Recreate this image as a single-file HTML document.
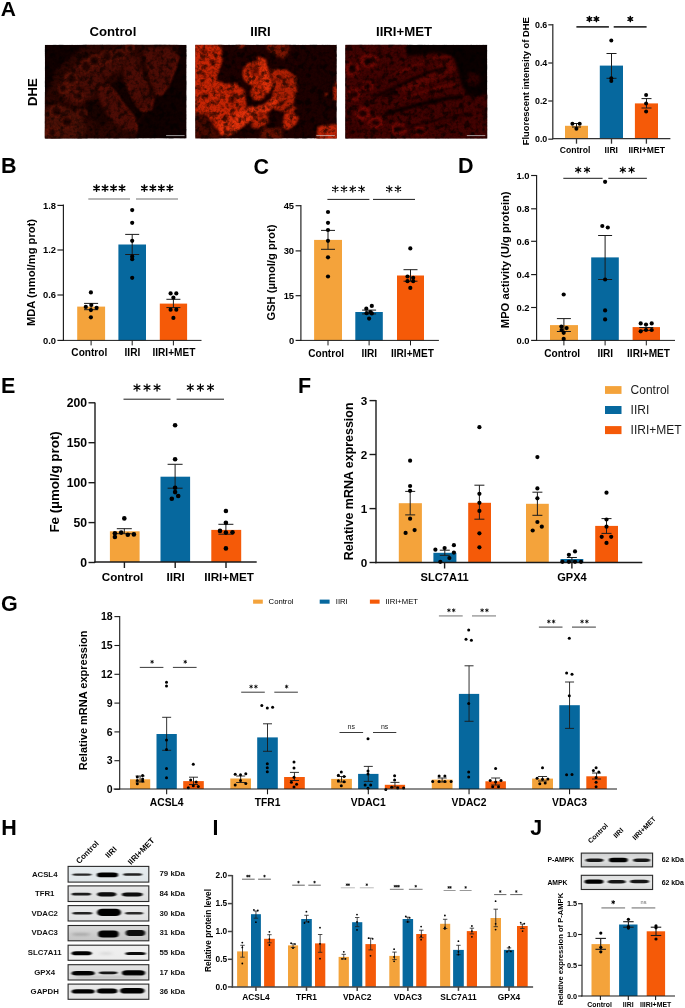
<!DOCTYPE html>
<html><head><meta charset="utf-8"><title>Figure</title>
<style>
html,body{margin:0;padding:0;background:#fff;}
body{width:685px;height:1008px;overflow:hidden;}
svg{will-change:transform;display:block;font-family:"Liberation Sans",sans-serif;}
</style></head><body>
<svg width="685" height="1008" viewBox="0 0 685 1008">
<defs>
<filter id="bl1" x="-10%" y="-10%" width="120%" height="120%" color-interpolation-filters="sRGB"><feGaussianBlur stdDeviation="1.1"/></filter>
<filter id="bl2" x="-10%" y="-10%" width="120%" height="120%" color-interpolation-filters="sRGB"><feGaussianBlur stdDeviation="1.8"/></filter>
<filter id="bl3" x="-10%" y="-10%" width="120%" height="120%" color-interpolation-filters="sRGB"><feGaussianBlur stdDeviation="3"/></filter>
<filter id="tex" x="0" y="0" width="100%" height="100%" color-interpolation-filters="sRGB"><feTurbulence type="fractalNoise" baseFrequency="0.42" numOctaves="2" seed="11" result="n"/><feColorMatrix in="n" type="matrix" values="0 0 0 0 0  0 0 0 0 0  0 0 0 0 0  -2.6 0 0 0 1.45"/><feGaussianBlur stdDeviation="0.4"/></filter>
<filter id="tex2" x="0" y="0" width="100%" height="100%" color-interpolation-filters="sRGB"><feTurbulence type="fractalNoise" baseFrequency="0.17" numOctaves="3" seed="4" result="n"/><feColorMatrix in="n" type="matrix" values="0 0 0 0 0  0 0 0 0 0  0 0 0 0 0  -4.0 0 0 0 2.1"/><feGaussianBlur stdDeviation="0.6"/></filter>
<clipPath id="cp0"><rect x="44.8" y="44.8" width="141.8" height="93.8"/></clipPath>
<clipPath id="cp1"><rect x="195.3" y="44.8" width="141.5" height="93.8"/></clipPath>
<clipPath id="cp2"><rect x="345.3" y="44.8" width="142" height="93.8"/></clipPath>
<filter id="bb" x="-30%" y="-150%" width="160%" height="400%"><feGaussianBlur stdDeviation="0.8 0.55"/></filter>
<filter id="bs" x="-30%" y="-150%" width="160%" height="400%"><feGaussianBlur stdDeviation="2 1.2"/></filter>
<linearGradient id="hg0" x1="0" y1="0" x2="0" y2="1"><stop offset="0" stop-color="#e6ecef"/><stop offset="1" stop-color="#dfe5e8"/></linearGradient>
<clipPath id="hc0"><rect x="68.1" y="866.4" width="80.7" height="15.7"/></clipPath>
<linearGradient id="hg1" x1="0" y1="0" x2="0" y2="1"><stop offset="0" stop-color="#e8e9ea"/><stop offset="1" stop-color="#dcdddd"/></linearGradient>
<clipPath id="hc1"><rect x="68.1" y="885.9" width="80.7" height="15.6"/></clipPath>
<linearGradient id="hg2" x1="0" y1="0" x2="0" y2="1"><stop offset="0" stop-color="#e9eaeb"/><stop offset="1" stop-color="#dfe0e1"/></linearGradient>
<clipPath id="hc2"><rect x="68.1" y="905.6" width="80.7" height="15.4"/></clipPath>
<linearGradient id="hg3" x1="0" y1="0" x2="0" y2="1"><stop offset="0" stop-color="#dadada"/><stop offset="1" stop-color="#c4c4c4"/></linearGradient>
<clipPath id="hc3"><rect x="68.1" y="925.5" width="80.7" height="15.3"/></clipPath>
<linearGradient id="hg4" x1="0" y1="0" x2="0" y2="1"><stop offset="0" stop-color="#f0f0f0"/><stop offset="1" stop-color="#ececec"/></linearGradient>
<clipPath id="hc4"><rect x="68.1" y="945.2" width="80.7" height="15.1"/></clipPath>
<linearGradient id="hg5" x1="0" y1="0" x2="0" y2="1"><stop offset="0" stop-color="#e4e4e4"/><stop offset="1" stop-color="#d8d8d8"/></linearGradient>
<clipPath id="hc5"><rect x="68.1" y="964.7" width="80.7" height="15.3"/></clipPath>
<linearGradient id="hg6" x1="0" y1="0" x2="0" y2="1"><stop offset="0" stop-color="#ebebeb"/><stop offset="1" stop-color="#e2e2e2"/></linearGradient>
<clipPath id="hc6"><rect x="68.1" y="984.1" width="80.7" height="15.2"/></clipPath>
<linearGradient id="jg0" x1="0" y1="0" x2="0" y2="1"><stop offset="0" stop-color="#cfd0d1"/><stop offset="0.5" stop-color="#e2e3e3"/><stop offset="1" stop-color="#c9caca"/></linearGradient>
<clipPath id="jc0"><rect x="581.3" y="853.1" width="71.3" height="13.8"/></clipPath>
<linearGradient id="jg1" x1="0" y1="0" x2="0" y2="1"><stop offset="0" stop-color="#dcdddd"/><stop offset="0.5" stop-color="#e8e9e9"/><stop offset="1" stop-color="#d6d7d7"/></linearGradient>
<clipPath id="jc1"><rect x="581.3" y="875.3" width="71.3" height="14.2"/></clipPath>
</defs>
<rect x="0" y="0" width="685" height="1008" fill="#fff"/>
<text x="0.78" y="16.03" font-size="21" font-weight="bold">A</text>
<text x="112.9" y="35.94" font-size="13.2" font-weight="bold" text-anchor="middle" fill="#000">Control</text>
<text x="260.5" y="35.94" font-size="13.2" font-weight="bold" text-anchor="middle" fill="#000">IIRI</text>
<text x="404" y="35.94" font-size="13.2" font-weight="bold" text-anchor="middle" fill="#000">IIRI+MET</text>
<text transform="translate(36.81 92.1) rotate(-90)" font-size="13.1" font-weight="bold" text-anchor="middle" fill="#000">DHE</text>
<g clip-path="url(#cp0)">
<rect x="44.8" y="44.8" width="141.8" height="93.8" fill="#110100"/>
<path d="M86,44 L178.5,44 L179,56.6 L174.3,71.3 L168,86 L161.7,94.5 L153.3,98.7 L151.2,109.2 L145,113 L140,120 L137.5,128 L135.4,138.6 L44,138.6 L44,98.7 L56.6,69.2 Z" fill="#2c0602" filter="url(#bl2)"/>
<path d="M60,80 L70,70 L80,62 L92,56 L104,52 L118,50 L132,52 L140,58 L138,66 L124,67 L112,74 L104,82 L97,90 L90,98 L80,104 L70,106 L62,100 Z" fill="#480c05" filter="url(#bl2)"/>
<path d="M65.5,79 a6,6 0 1 0 12,0 a6,6 0 1 0 -12,0 Z" fill="#5e1608" filter="url(#bl1)"/>
<path d="M68.5,79 a3,3 0 1 0 6,0 a3,3 0 1 0 -6,0 Z" fill="#2a0703" filter="url(#bl1)"/>
<path d="M61,90 a5,4.5 0 1 0 10,0 a5,4.5 0 1 0 -10,0 Z" fill="#561307" filter="url(#bl1)"/>
<path d="M85,62 a7,5 0 1 0 14,0 a7,5 0 1 0 -14,0 Z" fill="#4f1106" filter="url(#bl2)"/>
<path d="M97.6,89.2 L107.1,85 L115.5,92.3 L123.9,105 L132.3,115.5 L137.5,126 L135.4,133.3 L128.1,132.3 L117.6,126 L107.1,115.5 L99.7,102.9 Z" fill="#4c0c05" filter="url(#bl1)"/>
<path d="M123.9,67.1 L134.4,65 L142.8,71.3 L149.1,86 L153.3,98.7 L151.2,109.2 L142.8,111.3 L136.5,105 L130.2,92.3 L124.9,79.7 Z" fill="#4c0c05" filter="url(#bl1)"/>
<path d="M142.8,48.2 L170.1,47.2 L178.5,56.6 L174.3,71.3 L168,86 L161.7,94.5 L153.3,92.3 L149.1,77.6 L144.9,62.9 Z" fill="#4c0c05" filter="url(#bl1)"/>
<path d="M0,0" fill="#000" filter="url(#bl1)"/>
<path d="M44.8,110 L56,104 L68,108 L80,116 L86,128 L84,138.6 L44.8,138.6 Z" fill="#4a1006" filter="url(#bl2)"/>
<path d="M43,133 a9,6 0 1 0 18,0 a9,6 0 1 0 -18,0 Z" fill="#5c1508" filter="url(#bl2)"/>
<path d="M110,84 L118,80 L124,82 L128,90 L134,101 L141,110 L144,116 L139,121 L131,112 L123,103 L116,94 Z" fill="#140200" filter="url(#bl1)"/>
<path d="M97.6,89.2 L107.1,85 L115.5,92.3 L123.9,105 L132.3,115.5 L137.5,126 L135.4,133.3" fill="none" stroke="#741408" stroke-width="1.6" stroke-linecap="round" stroke-linejoin="round" filter="url(#bl1)"/>
<path d="M124.9,79.7 L130.2,92.3 L136.5,105 L142.8,111.3 L151.2,109.2 L153.3,98.7" fill="none" stroke="#741408" stroke-width="1.6" stroke-linecap="round" stroke-linejoin="round" filter="url(#bl1)"/>
<path d="M144.9,62.9 L149.1,77.6 L153.3,92.3 L161.7,94.5 L168,86 L174.3,71.3 L178.5,56.6" fill="none" stroke="#741408" stroke-width="1.6" stroke-linecap="round" stroke-linejoin="round" filter="url(#bl1)"/>
<path d="M86,104 L97,100 L104,110 L108,118 L106,126 L98,124 L90,118 L85,112 Z" fill="#1a0300" filter="url(#bl2)"/>
<path d="M143.5,58 L147,74 L150.5,86 L154,95" fill="none" stroke="#180300" stroke-width="2.4" stroke-linecap="round" stroke-linejoin="round" filter="url(#bl1)"/>
<path d="M124,66 L128,58 L136,54 L142,52" fill="none" stroke="#240502" stroke-width="1.2" stroke-linecap="round" stroke-linejoin="round" filter="url(#bl1)"/>
<circle cx="86" cy="67" r="5.5" fill="#260502" stroke="#6a1608" stroke-width="1.8" filter="url(#bl1)"/>
<circle cx="94.5" cy="60.8" r="5.5" fill="#260502" stroke="#6a1608" stroke-width="1.8" filter="url(#bl1)"/>
<circle cx="107" cy="56.6" r="5.5" fill="#260502" stroke="#6a1608" stroke-width="1.8" filter="url(#bl1)"/>
<circle cx="119.7" cy="54.5" r="4.5" fill="#260502" stroke="#6a1608" stroke-width="1.8" filter="url(#bl1)"/>
<circle cx="62.9" cy="88.1" r="4.5" fill="#260502" stroke="#6a1608" stroke-width="1.8" filter="url(#bl1)"/>
<circle cx="56.6" cy="111.3" r="5.5" fill="#260502" stroke="#6a1608" stroke-width="1.8" filter="url(#bl1)"/>
<circle cx="67.1" cy="121.8" r="5.5" fill="#260502" stroke="#6a1608" stroke-width="1.8" filter="url(#bl1)"/>
<circle cx="81.8" cy="113.4" r="4.5" fill="#260502" stroke="#6a1608" stroke-width="1.8" filter="url(#bl1)"/>
<circle cx="52.4" cy="132.3" r="4.5" fill="#260502" stroke="#6a1608" stroke-width="1.8" filter="url(#bl1)"/>
<circle cx="71.5" cy="79" r="5.5" fill="#260502" stroke="#6a1608" stroke-width="1.8" filter="url(#bl1)"/>
<circle cx="78" cy="96" r="4.5" fill="#260502" stroke="#6a1608" stroke-width="1.8" filter="url(#bl1)"/>
<circle cx="130" cy="48" r="4" fill="#260502" stroke="#6a1608" stroke-width="1.8" filter="url(#bl1)"/>
<g filter="url(#bl1)" opacity="0.85">
<circle cx="75.14" cy="53.1" r="1.27" fill="#1a0300"/>
<circle cx="99.44" cy="103.23" r="1.39" fill="#1a0300"/>
<circle cx="80.92" cy="128.58" r="0.8" fill="#1a0300"/>
<circle cx="102.7" cy="74.23" r="1.21" fill="#1a0300"/>
<circle cx="64.96" cy="122.33" r="1.17" fill="#1a0300"/>
<circle cx="54.69" cy="103.38" r="0.89" fill="#1a0300"/>
<circle cx="120.88" cy="79.53" r="1.38" fill="#1a0300"/>
<circle cx="174.58" cy="121.21" r="1.22" fill="#1a0300"/>
<circle cx="155.69" cy="105.88" r="1.17" fill="#1a0300"/>
<circle cx="68.47" cy="101.85" r="1.36" fill="#1a0300"/>
<circle cx="174.44" cy="134.22" r="1.41" fill="#1a0300"/>
<circle cx="95.65" cy="127.73" r="0.8" fill="#1a0300"/>
<circle cx="64.03" cy="99.23" r="1.42" fill="#1a0300"/>
<circle cx="68.29" cy="104.76" r="1.69" fill="#1a0300"/>
<circle cx="98.86" cy="87.56" r="1.03" fill="#1a0300"/>
<circle cx="87.89" cy="134.6" r="1.18" fill="#1a0300"/>
<circle cx="174.95" cy="129.5" r="1.4" fill="#1a0300"/>
<circle cx="83.78" cy="135.35" r="1.3" fill="#1a0300"/>
<circle cx="104.01" cy="77.77" r="1.78" fill="#1a0300"/>
<circle cx="113.93" cy="74.92" r="1.28" fill="#1a0300"/>
<circle cx="65.85" cy="104.09" r="1.24" fill="#1a0300"/>
<circle cx="88.1" cy="118.01" r="1.63" fill="#1a0300"/>
<circle cx="51.72" cy="96.33" r="1.07" fill="#1a0300"/>
<circle cx="171.58" cy="118.03" r="1.05" fill="#1a0300"/>
<circle cx="84.8" cy="63.46" r="1.79" fill="#1a0300"/>
<circle cx="88.11" cy="102.9" r="1.27" fill="#1a0300"/>
<circle cx="133.83" cy="102.54" r="1.54" fill="#1a0300"/>
<circle cx="65.36" cy="116.15" r="1.1" fill="#1a0300"/>
<circle cx="119.35" cy="79.24" r="1.1" fill="#1a0300"/>
<circle cx="118.88" cy="90.4" r="1.16" fill="#1a0300"/>
<circle cx="146.85" cy="101.4" r="0.84" fill="#1a0300"/>
<circle cx="82.81" cy="89.64" r="1.72" fill="#1a0300"/>
<circle cx="165.43" cy="97.47" r="0.81" fill="#1a0300"/>
<circle cx="151.19" cy="87.21" r="1.38" fill="#1a0300"/>
<circle cx="142.06" cy="105" r="1.28" fill="#1a0300"/>
<circle cx="168.52" cy="83.54" r="1.19" fill="#1a0300"/>
<circle cx="160.75" cy="67.09" r="1.1" fill="#1a0300"/>
<circle cx="157.9" cy="55.75" r="1.64" fill="#1a0300"/>
<circle cx="140.3" cy="87.66" r="1.09" fill="#1a0300"/>
<circle cx="151.49" cy="129.23" r="0.94" fill="#1a0300"/>
</g>
<rect x="44.8" y="44.8" width="141.8" height="93.8" filter="url(#tex)" opacity="0.3"/>
<rect x="44.8" y="44.8" width="141.8" height="93.8" filter="url(#tex2)" opacity="0.55"/>
<line x1="166.1" y1="135.6" x2="184.6" y2="135.6" stroke="#d8d8d8" stroke-width="0.7"/>
</g>
<g clip-path="url(#cp1)">
<rect x="195.3" y="44.8" width="141.5" height="93.8" fill="#1e0100"/>
<path d="M194,44 L221.3,44 L222.4,60.8 L216.1,79.7 L225.5,84 L236,82.9 L244.5,90.2 L246.6,107.1 L242.3,119.7 L236,128.1 L223.4,134.4 L215,128.1 L206.6,115.5 L194,113.4 Z" fill="#c62404" filter="url(#bl1)"/>
<path d="M194,113 L206,116 L214,128 L222,138.6 L194,138.6 Z" fill="#4a0a01" filter="url(#bl2)"/>
<path d="M265.5,44 L288.6,44 L289,52 L284,58.7 L276,56 L268,50 Z" fill="#7a1503" filter="url(#bl2)"/>
<path d="M236,44 L246,44 L244,48 L238,48 Z" fill="#801603" filter="url(#bl1)"/>
<path d="M269.7,69.2 L286.5,69.2 L297,77.6 L297,92.3 L292.8,105 L297,109.2 L290.7,113.4 L282.3,111.3 L273.9,109.2 L271.8,98.7 L273.9,86 Z" fill="#b02004" filter="url(#bl1)"/>
<path d="M242.4,73.4 a12.6,12 0 1 0 25.2,0 a12.6,12 0 1 0 -25.2,0 Z" fill="#d42a06" filter="url(#bl1)"/>
<path d="M250.5,71.3 a5,4.5 0 1 0 10,0 a5,4.5 0 1 0 -10,0 Z" fill="#8a1603" filter="url(#bl1)"/>
<path d="M247,73 a8.5,8 0 1 1 10,7.6" fill="none" stroke="#5a0c01" stroke-width="1.6" stroke-linecap="round" stroke-linejoin="round" filter="url(#bl1)"/>
<path d="M254.2,71 a1.8,1.6 0 1 0 3.6,0 a1.8,1.6 0 1 0 -3.6,0 Z" fill="#4a0800" filter="url(#bl1)"/>
<path d="M250.5,92.4 a7.5,8.5 0 1 0 15,0 a7.5,8.5 0 1 0 -15,0 Z" fill="#c22404" filter="url(#bl1)"/>
<path d="M257.1,56.6 L265.5,58.7 L269.7,75.5 L273.9,86 L267.6,94.5 L261.3,86 L259.2,71.3 Z" fill="#dc2e08" filter="url(#bl1)"/>
<path d="M219.2,123.9 L236,113.4 L248.7,107.1 L263.4,105 L273.9,96.6 L278.1,100.8 L269.7,111.3 L257.1,117.6 L246.6,123.9 L236,132.3 L227.6,136.5 L219.2,134.4 Z" fill="#e0300a" filter="url(#bl1)"/>
<path d="M250.8,113.4 L267.6,113.4 L268,122 L262,128.1 L252,128.1 Z" fill="#b82204" filter="url(#bl2)"/>
<path d="M262,128 L282,128 L282,138.6 L260,138.6 Z" fill="#6a1202" filter="url(#bl2)"/>
<path d="M284.4,113.4 L292.8,111.3 L299.1,117.6 L294.9,126 L286.5,130.2 L282.3,126 Z" fill="#c42406" filter="url(#bl1)"/>
<path d="M333.5,84 L336.8,82 L336.8,101 L333,100 Z" fill="#c42406" filter="url(#bl1)"/>
<path d="M324.4,94.5 a2,1.5 0 1 0 4,0 a2,1.5 0 1 0 -4,0 Z" fill="#901a03" filter="url(#bl1)"/>
<path d="M318,126 L338,123.9 L338,140 L316,140 Z" fill="#c02406" filter="url(#bl1)"/>
<path d="M209.5,62 a2.5,2 0 1 0 5,0 a2.5,2 0 1 0 -5,0 Z" fill="#3a0500" filter="url(#bl1)"/>
<path d="M201,52 a3,3 0 1 0 6,0 a3,3 0 1 0 -6,0 Z" fill="#701201" filter="url(#bl1)"/>
<path d="M229,100 a3,2.5 0 1 0 6,0 a3,2.5 0 1 0 -6,0 Z" fill="#5a0c01" filter="url(#bl1)"/>
<path d="M203,96 a3,3 0 1 0 6,0 a3,3 0 1 0 -6,0 Z" fill="#801502" filter="url(#bl1)"/>
<g filter="url(#bl1)" opacity="0.85">
<circle cx="260.78" cy="113.5" r="1.4" fill="#3a0500"/>
<circle cx="294.01" cy="113.33" r="1.52" fill="#3a0500"/>
<circle cx="199.02" cy="88.37" r="1.54" fill="#3a0500"/>
<circle cx="263.49" cy="127.98" r="0.71" fill="#3a0500"/>
<circle cx="244.78" cy="68.44" r="1.14" fill="#3a0500"/>
<circle cx="255.69" cy="47.19" r="0.82" fill="#3a0500"/>
<circle cx="225.07" cy="129.39" r="1.37" fill="#3a0500"/>
<circle cx="212.6" cy="118.54" r="0.74" fill="#3a0500"/>
<circle cx="260.22" cy="57.53" r="0.6" fill="#3a0500"/>
<circle cx="286.63" cy="65.06" r="0.82" fill="#3a0500"/>
<circle cx="298.17" cy="125.39" r="0.89" fill="#3a0500"/>
<circle cx="295.99" cy="95.07" r="1.28" fill="#3a0500"/>
<circle cx="217.3" cy="131.63" r="1.29" fill="#3a0500"/>
<circle cx="296.52" cy="127.33" r="0.9" fill="#3a0500"/>
<circle cx="233.56" cy="61.1" r="0.75" fill="#3a0500"/>
<circle cx="202.77" cy="73.42" r="1.2" fill="#3a0500"/>
<circle cx="196.35" cy="107.69" r="0.94" fill="#3a0500"/>
<circle cx="228.24" cy="120.49" r="1.08" fill="#3a0500"/>
<circle cx="228.84" cy="89.79" r="1.3" fill="#3a0500"/>
<circle cx="201.93" cy="134.73" r="0.62" fill="#3a0500"/>
<circle cx="273.98" cy="122.88" r="0.62" fill="#3a0500"/>
<circle cx="277.92" cy="79.32" r="1.18" fill="#3a0500"/>
<circle cx="196.94" cy="50.25" r="0.78" fill="#3a0500"/>
<circle cx="295.34" cy="63.88" r="1.36" fill="#3a0500"/>
<circle cx="292.68" cy="131.73" r="0.94" fill="#3a0500"/>
<circle cx="232.9" cy="93.75" r="1.38" fill="#3a0500"/>
<circle cx="207.24" cy="114.1" r="1.4" fill="#3a0500"/>
<circle cx="285.41" cy="49.33" r="1.55" fill="#3a0500"/>
<circle cx="205.48" cy="77.01" r="1.21" fill="#3a0500"/>
<circle cx="291.48" cy="76.94" r="1.52" fill="#3a0500"/>
<circle cx="252.69" cy="74.43" r="0.92" fill="#3a0500"/>
<circle cx="214.46" cy="53.12" r="0.75" fill="#3a0500"/>
<circle cx="267.67" cy="136.7" r="0.76" fill="#3a0500"/>
<circle cx="201.05" cy="135.79" r="1.13" fill="#3a0500"/>
<circle cx="238.21" cy="67.6" r="1.19" fill="#3a0500"/>
<circle cx="281.93" cy="87.47" r="1.02" fill="#3a0500"/>
<circle cx="201.79" cy="129.36" r="0.63" fill="#3a0500"/>
<circle cx="247.33" cy="122.3" r="0.73" fill="#3a0500"/>
<circle cx="272.09" cy="132.43" r="1.23" fill="#3a0500"/>
<circle cx="277.95" cy="55.7" r="1.03" fill="#3a0500"/>
<circle cx="211.52" cy="122.87" r="0.89" fill="#3a0500"/>
<circle cx="243.13" cy="136.94" r="1.45" fill="#3a0500"/>
<circle cx="297.5" cy="87.27" r="1.09" fill="#3a0500"/>
<circle cx="271.87" cy="89.59" r="0.89" fill="#3a0500"/>
<circle cx="237.99" cy="59.33" r="0.98" fill="#3a0500"/>
<circle cx="298.79" cy="133.34" r="1.23" fill="#3a0500"/>
<circle cx="247.93" cy="76.8" r="0.69" fill="#3a0500"/>
<circle cx="224.32" cy="117.16" r="1.47" fill="#3a0500"/>
<circle cx="233.58" cy="117.53" r="1.37" fill="#3a0500"/>
<circle cx="268.24" cy="106.43" r="1.36" fill="#3a0500"/>
<circle cx="233.8" cy="110.11" r="0.88" fill="#3a0500"/>
<circle cx="246.51" cy="116.05" r="1.29" fill="#3a0500"/>
<circle cx="226.56" cy="132.04" r="1.25" fill="#3a0500"/>
<circle cx="256.39" cy="47.05" r="1.15" fill="#3a0500"/>
<circle cx="222.07" cy="107.12" r="1.06" fill="#3a0500"/>
<circle cx="280.93" cy="104.92" r="1.4" fill="#3a0500"/>
<circle cx="232.18" cy="104.61" r="1.34" fill="#3a0500"/>
<circle cx="282.13" cy="77.85" r="1.44" fill="#3a0500"/>
<circle cx="286.47" cy="108.64" r="1.58" fill="#3a0500"/>
<circle cx="295.48" cy="93.15" r="1.13" fill="#3a0500"/>
<circle cx="213.28" cy="122.13" r="1.54" fill="#3a0500"/>
<circle cx="245.63" cy="108.92" r="1.32" fill="#3a0500"/>
<circle cx="271.96" cy="61.64" r="1.38" fill="#3a0500"/>
<circle cx="256.41" cy="106.57" r="1.02" fill="#3a0500"/>
<circle cx="260.87" cy="116.5" r="1.24" fill="#3a0500"/>
<circle cx="270.92" cy="48.51" r="0.76" fill="#3a0500"/>
<circle cx="241.87" cy="105.16" r="0.82" fill="#3a0500"/>
<circle cx="267.34" cy="103.41" r="0.64" fill="#3a0500"/>
<circle cx="245.04" cy="66.59" r="0.65" fill="#3a0500"/>
<circle cx="209.89" cy="74.88" r="0.78" fill="#3a0500"/>
</g>
<rect x="195.3" y="44.8" width="141.5" height="93.8" filter="url(#tex)" opacity="0.3"/>
<rect x="195.3" y="44.8" width="141.5" height="93.8" filter="url(#tex2)" opacity="0.6"/>
<line x1="316.3" y1="135.6" x2="334.8" y2="135.6" stroke="#d8d8d8" stroke-width="0.7"/>
</g>
<g clip-path="url(#cp2)">
<rect x="345.3" y="44.8" width="142" height="93.8" fill="#0b0000"/>
<path d="M344,44 L407.1,44 L407.1,56.6 L421.8,54.5 L436.5,52.4 L453.3,56.6 L457.5,69.2 L461.7,86 L470.1,96.6 L488,94.5 L488,140 L344,140 Z" fill="#420302" filter="url(#bl2)"/>
<path d="M345,69.2 a7.4,7.4 0 1 0 14.8,0 a7.4,7.4 0 1 0 -14.8,0 Z" fill="#740804" filter="url(#bl1)"/>
<path d="M348.9,69.2 a3.5,3.5 0 1 0 7,0 a3.5,3.5 0 1 0 -7,0 Z" fill="#1e0000" filter="url(#bl1)"/>
<path d="M347.1,94.5 a7.4,6.5 0 1 0 14.8,0 a7.4,6.5 0 1 0 -14.8,0 Z" fill="#740804" filter="url(#bl1)"/>
<path d="M351,94.5 a3.5,3 0 1 0 7,0 a3.5,3 0 1 0 -7,0 Z" fill="#1e0000" filter="url(#bl1)"/>
<path d="M359.7,60.8 a9.5,7 0 1 0 19,0 a9.5,7 0 1 0 -19,0 Z" fill="#700804" filter="url(#bl1)"/>
<path d="M364.7,60.8 a4.5,3 0 1 0 9,0 a4.5,3 0 1 0 -9,0 Z" fill="#1e0000" filter="url(#bl1)"/>
<path d="M354.9,113.4 a8,7 0 1 0 16,0 a8,7 0 1 0 -16,0 Z" fill="#760804" filter="url(#bl1)"/>
<path d="M358.9,113.4 a4,3 0 1 0 8,0 a4,3 0 1 0 -8,0 Z" fill="#1e0000" filter="url(#bl1)"/>
<path d="M367.5,122.7 a8,6.5 0 1 0 16,0 a8,6.5 0 1 0 -16,0 Z" fill="#720804" filter="url(#bl1)"/>
<path d="M371.5,122.7 a4,2.5 0 1 0 8,0 a4,2.5 0 1 0 -8,0 Z" fill="#1e0000" filter="url(#bl1)"/>
<path d="M346.4,128.1 a6,6 0 1 0 12,0 a6,6 0 1 0 -12,0 Z" fill="#3a0201" filter="url(#bl1)"/>
<path d="M390,129 a8.5,6.5 0 1 0 17,0 a8.5,6.5 0 1 0 -17,0 Z" fill="#700804" filter="url(#bl1)"/>
<path d="M394,129 a4.5,2.8 0 1 0 9,0 a4.5,2.8 0 1 0 -9,0 Z" fill="#1e0000" filter="url(#bl1)"/>
<path d="M413,131 a7,5 0 1 0 14,0 a7,5 0 1 0 -14,0 Z" fill="#6a0703" filter="url(#bl1)"/>
<path d="M416.5,131 a3.5,2.2 0 1 0 7,0 a3.5,2.2 0 1 0 -7,0 Z" fill="#220000" filter="url(#bl1)"/>
<path d="M362,86 a6,5 0 1 0 12,0 a6,5 0 1 0 -12,0 Z" fill="#6c0703" filter="url(#bl1)"/>
<path d="M365,86 a3,2.2 0 1 0 6,0 a3,2.2 0 1 0 -6,0 Z" fill="#220000" filter="url(#bl1)"/>
<path d="M395,74 L415,66 L435,58 L450,56" fill="none" stroke="#6e0804" stroke-width="2.2" stroke-linecap="round" stroke-linejoin="round" filter="url(#bl1)"/>
<path d="M405,98 L425,92 L445,86 L458,84" fill="none" stroke="#6e0804" stroke-width="2.2" stroke-linecap="round" stroke-linejoin="round" filter="url(#bl1)"/>
<path d="M400,86 L420,76 L440,64 L452,60 L456,70 L440,78 L420,88 L404,94 Z" fill="#5c0603" filter="url(#bl2)"/>
<path d="M466,79 a7,7 0 1 0 14,0 a7,7 0 1 0 -14,0 Z" fill="#2c0100" filter="url(#bl2)"/>
<path d="M376,96 L407.1,81.7 L432.3,71.2 L446,68" fill="none" stroke="#140000" stroke-width="3" stroke-linecap="round" stroke-linejoin="round" filter="url(#bl1)"/>
<path d="M386,113.4 L417.6,105 L444.9,98.7 L461.7,96.6" fill="none" stroke="#100000" stroke-width="4" stroke-linecap="round" stroke-linejoin="round" filter="url(#bl1)"/>
<path d="M402.9,128.1 L438.6,119.7 L470.1,113.4" fill="none" stroke="#1a0000" stroke-width="1.8" stroke-linecap="round" stroke-linejoin="round" filter="url(#bl1)"/>
<path d="M384,96 L396,92" fill="none" stroke="#140000" stroke-width="4" stroke-linecap="round" stroke-linejoin="round" filter="url(#bl2)"/>
<g filter="url(#bl1)" opacity="0.85">
<circle cx="412.98" cy="97.77" r="1.3" fill="#140000"/>
<circle cx="392.3" cy="63.36" r="1.39" fill="#140000"/>
<circle cx="459.66" cy="55.95" r="1.03" fill="#140000"/>
<circle cx="460.74" cy="118.88" r="1.46" fill="#140000"/>
<circle cx="349.58" cy="112.87" r="1.78" fill="#140000"/>
<circle cx="485.77" cy="111.01" r="0.85" fill="#140000"/>
<circle cx="463.89" cy="69.07" r="1.45" fill="#140000"/>
<circle cx="479.31" cy="111.98" r="0.93" fill="#140000"/>
<circle cx="386.95" cy="129.87" r="0.95" fill="#140000"/>
<circle cx="431.49" cy="86.01" r="0.96" fill="#140000"/>
<circle cx="433.14" cy="53.79" r="0.91" fill="#140000"/>
<circle cx="399.09" cy="56.26" r="0.86" fill="#140000"/>
<circle cx="426.54" cy="114.58" r="1.68" fill="#140000"/>
<circle cx="364.81" cy="87.56" r="1.11" fill="#140000"/>
<circle cx="430.03" cy="92.59" r="1.74" fill="#140000"/>
<circle cx="398.39" cy="54.85" r="1.5" fill="#140000"/>
<circle cx="367.16" cy="104.93" r="1.31" fill="#140000"/>
<circle cx="473.46" cy="98.28" r="1.42" fill="#140000"/>
<circle cx="382.85" cy="98" r="1.05" fill="#140000"/>
<circle cx="451.08" cy="94.98" r="0.93" fill="#140000"/>
<circle cx="378.82" cy="82.3" r="1.54" fill="#140000"/>
<circle cx="371.1" cy="112.06" r="1.46" fill="#140000"/>
<circle cx="357.93" cy="108.11" r="0.89" fill="#140000"/>
<circle cx="363.47" cy="101.68" r="1.04" fill="#140000"/>
<circle cx="468.77" cy="91.8" r="1.12" fill="#140000"/>
<circle cx="457.5" cy="52.56" r="1.53" fill="#140000"/>
<circle cx="353.51" cy="63.12" r="1.75" fill="#140000"/>
<circle cx="441.36" cy="69.41" r="0.92" fill="#140000"/>
<circle cx="482.18" cy="107.86" r="1.62" fill="#140000"/>
<circle cx="365.57" cy="104.36" r="1.15" fill="#140000"/>
<circle cx="378.9" cy="78.99" r="1.41" fill="#140000"/>
<circle cx="394.81" cy="83.56" r="0.94" fill="#140000"/>
<circle cx="462.35" cy="106.37" r="1.6" fill="#140000"/>
<circle cx="406.68" cy="124.09" r="1.32" fill="#140000"/>
<circle cx="428.97" cy="99.87" r="1.54" fill="#140000"/>
<circle cx="401.37" cy="58.44" r="0.83" fill="#140000"/>
<circle cx="374.34" cy="53.43" r="1.69" fill="#140000"/>
<circle cx="413.34" cy="116.15" r="0.8" fill="#140000"/>
<circle cx="411.83" cy="127.41" r="1.42" fill="#140000"/>
<circle cx="406.01" cy="90.5" r="0.9" fill="#140000"/>
</g>
<rect x="345.3" y="44.8" width="142" height="93.8" filter="url(#tex)" opacity="0.3"/>
<rect x="345.3" y="44.8" width="142" height="93.8" filter="url(#tex2)" opacity="0.6"/>
<line x1="466.8" y1="135.6" x2="485.3" y2="135.6" stroke="#d8d8d8" stroke-width="0.7"/>
</g>
<line x1="552.8" y1="23.9" x2="552.8" y2="139.35" stroke="#333" stroke-width="1.3"/>
<line x1="548.3" y1="24.8" x2="552.8" y2="24.8" stroke="#333" stroke-width="1.3"/>
<text x="547.3" y="27.86" font-size="8.9" font-weight="bold" text-anchor="end" fill="#000">0.6</text>
<line x1="548.3" y1="63" x2="552.8" y2="63" stroke="#333" stroke-width="1.3"/>
<text x="547.3" y="66.06" font-size="8.9" font-weight="bold" text-anchor="end" fill="#000">0.4</text>
<line x1="548.3" y1="101" x2="552.8" y2="101" stroke="#333" stroke-width="1.3"/>
<text x="547.3" y="104.06" font-size="8.9" font-weight="bold" text-anchor="end" fill="#000">0.2</text>
<line x1="548.3" y1="139.2" x2="552.8" y2="139.2" stroke="#333" stroke-width="1.3"/>
<text x="547.3" y="142.26" font-size="8.9" font-weight="bold" text-anchor="end" fill="#000">0.0</text>
<rect x="565" y="125.8" width="23" height="12.9" fill="#F4A33B"/>
<rect x="599.8" y="65.6" width="23.2" height="73.1" fill="#06689E"/>
<rect x="634.9" y="103.4" width="23.1" height="35.3" fill="#F55A08"/>
<line x1="552.15" y1="138.7" x2="670.4" y2="138.7" stroke="#333" stroke-width="1.3"/>
<line x1="576.5" y1="138.7" x2="576.5" y2="143.7" stroke="#333" stroke-width="1.3"/>
<line x1="611.5" y1="138.7" x2="611.5" y2="143.7" stroke="#333" stroke-width="1.3"/>
<line x1="646.4" y1="138.7" x2="646.4" y2="143.7" stroke="#333" stroke-width="1.3"/>
<line x1="576.5" y1="123.5" x2="576.5" y2="127" stroke="#1b1b1b" stroke-width="1"/>
<line x1="572" y1="123.5" x2="581" y2="123.5" stroke="#1b1b1b" stroke-width="1"/>
<line x1="572" y1="127" x2="581" y2="127" stroke="#1b1b1b" stroke-width="1"/>
<line x1="611.5" y1="53.5" x2="611.5" y2="78.3" stroke="#1b1b1b" stroke-width="1"/>
<line x1="606.5" y1="53.5" x2="616.5" y2="53.5" stroke="#1b1b1b" stroke-width="1"/>
<line x1="606.5" y1="78.3" x2="616.5" y2="78.3" stroke="#1b1b1b" stroke-width="1"/>
<line x1="646.5" y1="98.6" x2="646.5" y2="108" stroke="#1b1b1b" stroke-width="1"/>
<line x1="641.5" y1="98.6" x2="651.5" y2="98.6" stroke="#1b1b1b" stroke-width="1"/>
<line x1="641.5" y1="108" x2="651.5" y2="108" stroke="#1b1b1b" stroke-width="1"/>
<circle cx="572.4" cy="123.7" r="2" fill="#000"/>
<circle cx="579.7" cy="123.7" r="2" fill="#000"/>
<circle cx="576.4" cy="128.8" r="2" fill="#000"/>
<circle cx="611.3" cy="40.5" r="2" fill="#000"/>
<circle cx="611.3" cy="78.3" r="2" fill="#000"/>
<circle cx="611.3" cy="81" r="2" fill="#000"/>
<circle cx="646.1" cy="95" r="2" fill="#000"/>
<circle cx="646.1" cy="103.4" r="2" fill="#000"/>
<circle cx="646.1" cy="111.5" r="2" fill="#000"/>
<line x1="576.4" y1="26.9" x2="608.9" y2="26.9" stroke="#333" stroke-width="1.6"/>
<line x1="613.7" y1="26.9" x2="646.6" y2="26.9" stroke="#333" stroke-width="1.6"/>
<path d="M589.4 16.4L589.4 21.6M587.15 17.7L591.65 20.3M591.65 17.7L587.15 20.3" stroke="#000" stroke-width="1.55" stroke-linecap="round"/>
<path d="M596.4 16.4L596.4 21.6M594.15 17.7L598.65 20.3M598.65 17.7L594.15 20.3" stroke="#000" stroke-width="1.55" stroke-linecap="round"/>
<path d="M630.3 16.4L630.3 21.6M628.05 17.7L632.55 20.3M632.55 17.7L628.05 20.3" stroke="#000" stroke-width="1.55" stroke-linecap="round"/>
<text x="575" y="152.96" font-size="8.6" font-weight="bold" text-anchor="middle" fill="#000">Control</text>
<text x="611.3" y="152.96" font-size="8.6" font-weight="bold" text-anchor="middle" fill="#000">IIRI</text>
<text x="646.7" y="152.96" font-size="8.6" font-weight="bold" text-anchor="middle" fill="#000">IIRI+MET</text>
<text transform="translate(529.23 81.2) rotate(-90)" font-size="9.4" font-weight="bold" text-anchor="middle" fill="#000">Fluorescent intensity of DHE</text>
<text x="0.96" y="173.37" font-size="21.5" font-weight="bold">B</text>
<line x1="63.4" y1="204.4" x2="63.4" y2="340.97" stroke="#1b1b1b" stroke-width="1.15"/>
<line x1="57.4" y1="205.4" x2="63.4" y2="205.4" stroke="#1b1b1b" stroke-width="1.15"/>
<text x="56" y="208.63" font-size="9.4" font-weight="bold" text-anchor="end" fill="#000">1.8</text>
<line x1="57.4" y1="250" x2="63.4" y2="250" stroke="#1b1b1b" stroke-width="1.15"/>
<text x="56" y="253.23" font-size="9.4" font-weight="bold" text-anchor="end" fill="#000">1.2</text>
<line x1="57.4" y1="295" x2="63.4" y2="295" stroke="#1b1b1b" stroke-width="1.15"/>
<text x="56" y="298.23" font-size="9.4" font-weight="bold" text-anchor="end" fill="#000">0.6</text>
<line x1="57.4" y1="340.4" x2="63.4" y2="340.4" stroke="#1b1b1b" stroke-width="1.15"/>
<text x="56" y="343.63" font-size="9.4" font-weight="bold" text-anchor="end" fill="#000">0.0</text>
<rect x="77.2" y="306.6" width="27.9" height="33.8" fill="#F4A33B"/>
<rect x="118.4" y="244.5" width="27.6" height="95.9" fill="#06689E"/>
<rect x="159.8" y="303.6" width="27.3" height="36.8" fill="#F55A08"/>
<line x1="62.9" y1="340.4" x2="201.5" y2="340.4" stroke="#1b1b1b" stroke-width="1"/>
<line x1="91.1" y1="340.4" x2="91.1" y2="345.4" stroke="#1b1b1b" stroke-width="1"/>
<line x1="132.2" y1="340.4" x2="132.2" y2="345.4" stroke="#1b1b1b" stroke-width="1"/>
<line x1="173.4" y1="340.4" x2="173.4" y2="345.4" stroke="#1b1b1b" stroke-width="1"/>
<line x1="91.1" y1="303.4" x2="91.1" y2="309.7" stroke="#1b1b1b" stroke-width="1"/>
<line x1="84.1" y1="303.4" x2="98.1" y2="303.4" stroke="#1b1b1b" stroke-width="1"/>
<line x1="84.1" y1="309.7" x2="98.1" y2="309.7" stroke="#1b1b1b" stroke-width="1"/>
<line x1="132.2" y1="234.4" x2="132.2" y2="254.5" stroke="#1b1b1b" stroke-width="1"/>
<line x1="125.2" y1="234.4" x2="139.2" y2="234.4" stroke="#1b1b1b" stroke-width="1"/>
<line x1="125.2" y1="254.5" x2="139.2" y2="254.5" stroke="#1b1b1b" stroke-width="1"/>
<line x1="173.4" y1="299.3" x2="173.4" y2="307.6" stroke="#1b1b1b" stroke-width="1"/>
<line x1="166.4" y1="299.3" x2="180.4" y2="299.3" stroke="#1b1b1b" stroke-width="1"/>
<line x1="166.4" y1="307.6" x2="180.4" y2="307.6" stroke="#1b1b1b" stroke-width="1"/>
<circle cx="90.9" cy="292.4" r="2.1" fill="#000"/>
<circle cx="85.8" cy="306.9" r="2.1" fill="#000"/>
<circle cx="91.3" cy="305" r="2.1" fill="#000"/>
<circle cx="96.6" cy="307.8" r="2.1" fill="#000"/>
<circle cx="90.9" cy="310.1" r="2.1" fill="#000"/>
<circle cx="90.9" cy="317.3" r="2.1" fill="#000"/>
<circle cx="132.2" cy="210.1" r="2.1" fill="#000"/>
<circle cx="132.2" cy="222.8" r="2.1" fill="#000"/>
<circle cx="132.2" cy="240.8" r="2.1" fill="#000"/>
<circle cx="132.2" cy="256.4" r="2.1" fill="#000"/>
<circle cx="132.2" cy="259.2" r="2.1" fill="#000"/>
<circle cx="132.2" cy="277.8" r="2.1" fill="#000"/>
<circle cx="170.6" cy="293.4" r="2.1" fill="#000"/>
<circle cx="176.3" cy="293.4" r="2.1" fill="#000"/>
<circle cx="173.4" cy="297.7" r="2.1" fill="#000"/>
<circle cx="170.6" cy="309.7" r="2.1" fill="#000"/>
<circle cx="176.3" cy="309.7" r="2.1" fill="#000"/>
<circle cx="173.4" cy="317.9" r="2.1" fill="#000"/>
<line x1="88.3" y1="199" x2="130" y2="199" stroke="#a0a0a0" stroke-width="1.3"/>
<line x1="136" y1="199" x2="178" y2="199" stroke="#a0a0a0" stroke-width="1.3"/>
<path d="M96.55 185.1L96.55 191.3M93.87 186.65L99.23 189.75M99.23 186.65L93.87 189.75" stroke="#000" stroke-width="1.5" stroke-linecap="round"/>
<path d="M105.05 185.1L105.05 191.3M102.37 186.65L107.73 189.75M107.73 186.65L102.37 189.75" stroke="#000" stroke-width="1.5" stroke-linecap="round"/>
<path d="M113.55 185.1L113.55 191.3M110.87 186.65L116.23 189.75M116.23 186.65L110.87 189.75" stroke="#000" stroke-width="1.5" stroke-linecap="round"/>
<path d="M122.05 185.1L122.05 191.3M119.37 186.65L124.73 189.75M124.73 186.65L119.37 189.75" stroke="#000" stroke-width="1.5" stroke-linecap="round"/>
<path d="M144.35 185.1L144.35 191.3M141.67 186.65L147.03 189.75M147.03 186.65L141.67 189.75" stroke="#000" stroke-width="1.5" stroke-linecap="round"/>
<path d="M152.85 185.1L152.85 191.3M150.17 186.65L155.53 189.75M155.53 186.65L150.17 189.75" stroke="#000" stroke-width="1.5" stroke-linecap="round"/>
<path d="M161.35 185.1L161.35 191.3M158.67 186.65L164.03 189.75M164.03 186.65L158.67 189.75" stroke="#000" stroke-width="1.5" stroke-linecap="round"/>
<path d="M169.85 185.1L169.85 191.3M167.17 186.65L172.53 189.75M172.53 186.65L167.17 189.75" stroke="#000" stroke-width="1.5" stroke-linecap="round"/>
<text x="89.3" y="356.37" font-size="10.1" font-weight="bold" text-anchor="middle" fill="#000">Control</text>
<text x="132.4" y="356.37" font-size="10.1" font-weight="bold" text-anchor="middle" fill="#000">IIRI</text>
<text x="173.9" y="356.37" font-size="10.1" font-weight="bold" text-anchor="middle" fill="#000">IIRI+MET</text>
<text transform="translate(35.15 272.5) rotate(-90)" font-size="11.2" font-weight="bold" text-anchor="middle" fill="#000">MDA (nmol/mg prot)</text>
<text x="253.62" y="173.57" font-size="21.5" font-weight="bold">C</text>
<line x1="300.9" y1="205" x2="300.9" y2="340.97" stroke="#1b1b1b" stroke-width="1.15"/>
<line x1="295.6" y1="205.7" x2="300.9" y2="205.7" stroke="#1b1b1b" stroke-width="1.15"/>
<text x="294.1" y="208.93" font-size="9.4" font-weight="bold" text-anchor="end" fill="#000">45</text>
<line x1="295.6" y1="250.9" x2="300.9" y2="250.9" stroke="#1b1b1b" stroke-width="1.15"/>
<text x="294.1" y="254.13" font-size="9.4" font-weight="bold" text-anchor="end" fill="#000">30</text>
<line x1="295.6" y1="295.7" x2="300.9" y2="295.7" stroke="#1b1b1b" stroke-width="1.15"/>
<text x="294.1" y="298.93" font-size="9.4" font-weight="bold" text-anchor="end" fill="#000">15</text>
<line x1="295.6" y1="340.4" x2="300.9" y2="340.4" stroke="#1b1b1b" stroke-width="1.15"/>
<text x="294.1" y="343.63" font-size="9.4" font-weight="bold" text-anchor="end" fill="#000">0</text>
<rect x="314.1" y="239.9" width="27.9" height="100.5" fill="#F4A33B"/>
<rect x="355.3" y="312" width="27.5" height="28.4" fill="#06689E"/>
<rect x="397" y="275.5" width="27" height="64.9" fill="#F55A08"/>
<line x1="300.4" y1="340.4" x2="438.9" y2="340.4" stroke="#1b1b1b" stroke-width="1"/>
<line x1="328" y1="340.4" x2="328" y2="345.4" stroke="#1b1b1b" stroke-width="1"/>
<line x1="369.1" y1="340.4" x2="369.1" y2="345.4" stroke="#1b1b1b" stroke-width="1"/>
<line x1="410.5" y1="340.4" x2="410.5" y2="345.4" stroke="#1b1b1b" stroke-width="1"/>
<line x1="328" y1="230.4" x2="328" y2="249.3" stroke="#1b1b1b" stroke-width="1"/>
<line x1="321" y1="230.4" x2="335" y2="230.4" stroke="#1b1b1b" stroke-width="1"/>
<line x1="321" y1="249.3" x2="335" y2="249.3" stroke="#1b1b1b" stroke-width="1"/>
<line x1="369.1" y1="310.1" x2="369.1" y2="313.9" stroke="#1b1b1b" stroke-width="1"/>
<line x1="362.1" y1="310.1" x2="376.1" y2="310.1" stroke="#1b1b1b" stroke-width="1"/>
<line x1="362.1" y1="313.9" x2="376.1" y2="313.9" stroke="#1b1b1b" stroke-width="1"/>
<line x1="410.5" y1="269.7" x2="410.5" y2="281.2" stroke="#1b1b1b" stroke-width="1"/>
<line x1="403.5" y1="269.7" x2="417.5" y2="269.7" stroke="#1b1b1b" stroke-width="1"/>
<line x1="403.5" y1="281.2" x2="417.5" y2="281.2" stroke="#1b1b1b" stroke-width="1"/>
<circle cx="328" cy="212" r="2.1" fill="#000"/>
<circle cx="328" cy="222.8" r="2.1" fill="#000"/>
<circle cx="328" cy="230" r="2.1" fill="#000"/>
<circle cx="328" cy="240.8" r="2.1" fill="#000"/>
<circle cx="328" cy="257.3" r="2.1" fill="#000"/>
<circle cx="328" cy="276.5" r="2.1" fill="#000"/>
<circle cx="366.3" cy="308.7" r="2.1" fill="#000"/>
<circle cx="371.8" cy="305.9" r="2.1" fill="#000"/>
<circle cx="366.6" cy="313.2" r="2.1" fill="#000"/>
<circle cx="371.8" cy="313.4" r="2.1" fill="#000"/>
<circle cx="369.1" cy="318.6" r="2.1" fill="#000"/>
<circle cx="370.5" cy="312" r="2.1" fill="#000"/>
<circle cx="410.3" cy="248.4" r="2.1" fill="#000"/>
<circle cx="407.5" cy="276.5" r="2.1" fill="#000"/>
<circle cx="413.2" cy="277.8" r="2.1" fill="#000"/>
<circle cx="407.5" cy="281.2" r="2.1" fill="#000"/>
<circle cx="413.2" cy="281.2" r="2.1" fill="#000"/>
<circle cx="410.3" cy="287.9" r="2.1" fill="#000"/>
<line x1="327.4" y1="199.4" x2="369.4" y2="199.4" stroke="#1b1b1b" stroke-width="1"/>
<line x1="373" y1="199.4" x2="415" y2="199.4" stroke="#1b1b1b" stroke-width="1"/>
<path d="M335.26 185.9L335.26 192.1M332.58 187.45L337.94 190.55M337.94 187.45L332.58 190.55" stroke="#000" stroke-width="1.15" stroke-linecap="round"/>
<path d="M344.02 185.9L344.02 192.1M341.34 187.45L346.7 190.55M346.7 187.45L341.34 190.55" stroke="#000" stroke-width="1.15" stroke-linecap="round"/>
<path d="M352.78 185.9L352.78 192.1M350.1 187.45L355.46 190.55M355.46 187.45L350.1 190.55" stroke="#000" stroke-width="1.15" stroke-linecap="round"/>
<path d="M361.54 185.9L361.54 192.1M358.86 187.45L364.22 190.55M364.22 187.45L358.86 190.55" stroke="#000" stroke-width="1.15" stroke-linecap="round"/>
<path d="M389.22 185.9L389.22 192.1M386.54 187.45L391.9 190.55M391.9 187.45L386.54 190.55" stroke="#000" stroke-width="1.15" stroke-linecap="round"/>
<path d="M397.98 185.9L397.98 192.1M395.3 187.45L400.66 190.55M400.66 187.45L395.3 190.55" stroke="#000" stroke-width="1.15" stroke-linecap="round"/>
<text x="326.2" y="356.67" font-size="10.1" font-weight="bold" text-anchor="middle" fill="#000">Control</text>
<text x="369.3" y="356.67" font-size="10.1" font-weight="bold" text-anchor="middle" fill="#000">IIRI</text>
<text x="412.4" y="356.67" font-size="10.1" font-weight="bold" text-anchor="middle" fill="#000">IIRI+MET</text>
<text transform="translate(275.25 272.6) rotate(-90)" font-size="11.2" font-weight="bold" text-anchor="middle" fill="#000">GSH (µmol/g prot)</text>
<text x="457.96" y="173.37" font-size="21.5" font-weight="bold">D</text>
<line x1="536.6" y1="175" x2="536.6" y2="340.97" stroke="#1b1b1b" stroke-width="1.15"/>
<line x1="531.1" y1="175.5" x2="536.6" y2="175.5" stroke="#1b1b1b" stroke-width="1.15"/>
<text x="529.6" y="178.73" font-size="9.4" font-weight="bold" text-anchor="end" fill="#000">1.0</text>
<line x1="531.1" y1="208.8" x2="536.6" y2="208.8" stroke="#1b1b1b" stroke-width="1.15"/>
<text x="529.6" y="212.03" font-size="9.4" font-weight="bold" text-anchor="end" fill="#000">0.8</text>
<line x1="531.1" y1="241.3" x2="536.6" y2="241.3" stroke="#1b1b1b" stroke-width="1.15"/>
<text x="529.6" y="244.53" font-size="9.4" font-weight="bold" text-anchor="end" fill="#000">0.6</text>
<line x1="531.1" y1="274.6" x2="536.6" y2="274.6" stroke="#1b1b1b" stroke-width="1.15"/>
<text x="529.6" y="277.83" font-size="9.4" font-weight="bold" text-anchor="end" fill="#000">0.4</text>
<line x1="531.1" y1="307.5" x2="536.6" y2="307.5" stroke="#1b1b1b" stroke-width="1.15"/>
<text x="529.6" y="310.73" font-size="9.4" font-weight="bold" text-anchor="end" fill="#000">0.2</text>
<line x1="531.1" y1="340.4" x2="536.6" y2="340.4" stroke="#1b1b1b" stroke-width="1.15"/>
<text x="529.6" y="343.63" font-size="9.4" font-weight="bold" text-anchor="end" fill="#000">0.0</text>
<rect x="550" y="325.1" width="28" height="15.3" fill="#F4A33B"/>
<rect x="591.2" y="257.4" width="27.6" height="83" fill="#06689E"/>
<rect x="632.6" y="327.1" width="27.4" height="13.3" fill="#F55A08"/>
<line x1="536.1" y1="340.4" x2="675" y2="340.4" stroke="#1b1b1b" stroke-width="1"/>
<line x1="563.9" y1="340.4" x2="563.9" y2="345.4" stroke="#1b1b1b" stroke-width="1"/>
<line x1="605.1" y1="340.4" x2="605.1" y2="345.4" stroke="#1b1b1b" stroke-width="1"/>
<line x1="646.3" y1="340.4" x2="646.3" y2="345.4" stroke="#1b1b1b" stroke-width="1"/>
<line x1="563.9" y1="318.6" x2="563.9" y2="331.5" stroke="#1b1b1b" stroke-width="1"/>
<line x1="556.9" y1="318.6" x2="570.9" y2="318.6" stroke="#1b1b1b" stroke-width="1"/>
<line x1="556.9" y1="331.5" x2="570.9" y2="331.5" stroke="#1b1b1b" stroke-width="1"/>
<line x1="605.1" y1="235.5" x2="605.1" y2="279.5" stroke="#1b1b1b" stroke-width="1"/>
<line x1="598.1" y1="235.5" x2="612.1" y2="235.5" stroke="#1b1b1b" stroke-width="1"/>
<line x1="598.1" y1="279.5" x2="612.1" y2="279.5" stroke="#1b1b1b" stroke-width="1"/>
<line x1="646.3" y1="327.5" x2="646.3" y2="330.4" stroke="#1b1b1b" stroke-width="1"/>
<line x1="639.3" y1="327.5" x2="653.3" y2="327.5" stroke="#1b1b1b" stroke-width="1"/>
<line x1="639.3" y1="330.4" x2="653.3" y2="330.4" stroke="#1b1b1b" stroke-width="1"/>
<circle cx="563.7" cy="294.5" r="2.1" fill="#000"/>
<circle cx="561.4" cy="326.6" r="2.1" fill="#000"/>
<circle cx="566.6" cy="328.1" r="2.1" fill="#000"/>
<circle cx="561.6" cy="330" r="2.1" fill="#000"/>
<circle cx="563.7" cy="332.8" r="2.1" fill="#000"/>
<circle cx="563.7" cy="338.9" r="2.1" fill="#000"/>
<circle cx="605.1" cy="181.8" r="2.1" fill="#000"/>
<circle cx="602.3" cy="226" r="2.1" fill="#000"/>
<circle cx="607.8" cy="227.5" r="2.1" fill="#000"/>
<circle cx="605.1" cy="279.5" r="2.1" fill="#000"/>
<circle cx="605.1" cy="310.4" r="2.1" fill="#000"/>
<circle cx="605.1" cy="319.4" r="2.1" fill="#000"/>
<circle cx="640.7" cy="323.4" r="2.1" fill="#000"/>
<circle cx="646" cy="324.6" r="2.1" fill="#000"/>
<circle cx="651.7" cy="323.4" r="2.1" fill="#000"/>
<circle cx="640.7" cy="331.3" r="2.1" fill="#000"/>
<circle cx="646" cy="330" r="2.1" fill="#000"/>
<circle cx="651.7" cy="330" r="2.1" fill="#000"/>
<line x1="563.3" y1="178.3" x2="602.6" y2="178.3" stroke="#1b1b1b" stroke-width="1"/>
<line x1="608.3" y1="178.3" x2="646.9" y2="178.3" stroke="#1b1b1b" stroke-width="1"/>
<path d="M578.2 167L578.2 172.8M575.69 168.45L580.71 171.35M580.71 168.45L575.69 171.35" stroke="#000" stroke-width="1.15" stroke-linecap="round"/>
<path d="M587 167L587 172.8M584.49 168.45L589.51 171.35M589.51 168.45L584.49 171.35" stroke="#000" stroke-width="1.15" stroke-linecap="round"/>
<path d="M622.8 167L622.8 172.8M620.29 168.45L625.31 171.35M625.31 168.45L620.29 171.35" stroke="#000" stroke-width="1.15" stroke-linecap="round"/>
<path d="M631.6 167L631.6 172.8M629.09 168.45L634.11 171.35M634.11 168.45L629.09 171.35" stroke="#000" stroke-width="1.15" stroke-linecap="round"/>
<text x="562.2" y="356.67" font-size="10.1" font-weight="bold" text-anchor="middle" fill="#000">Control</text>
<text x="605.3" y="356.67" font-size="10.1" font-weight="bold" text-anchor="middle" fill="#000">IIRI</text>
<text x="648.5" y="356.67" font-size="10.1" font-weight="bold" text-anchor="middle" fill="#000">IIRI+MET</text>
<text transform="translate(508.85 259.8) rotate(-90)" font-size="11.2" font-weight="bold" text-anchor="middle" fill="#000">MPO activity (U/g protein)</text>
<text x="0.96" y="392.77" font-size="21.5" font-weight="bold">E</text>
<line x1="95" y1="402.5" x2="95" y2="562.7" stroke="#1b1b1b" stroke-width="1.4"/>
<line x1="88.5" y1="402.8" x2="95" y2="402.8" stroke="#1b1b1b" stroke-width="1.4"/>
<text x="87" y="407" font-size="12.2" font-weight="bold" text-anchor="end" fill="#000">200</text>
<line x1="88.5" y1="442.7" x2="95" y2="442.7" stroke="#1b1b1b" stroke-width="1.4"/>
<text x="87" y="446.9" font-size="12.2" font-weight="bold" text-anchor="end" fill="#000">150</text>
<line x1="88.5" y1="482.7" x2="95" y2="482.7" stroke="#1b1b1b" stroke-width="1.4"/>
<text x="87" y="486.9" font-size="12.2" font-weight="bold" text-anchor="end" fill="#000">100</text>
<line x1="88.5" y1="522.6" x2="95" y2="522.6" stroke="#1b1b1b" stroke-width="1.4"/>
<text x="87" y="526.8" font-size="12.2" font-weight="bold" text-anchor="end" fill="#000">50</text>
<line x1="88.5" y1="562.5" x2="95" y2="562.5" stroke="#1b1b1b" stroke-width="1.4"/>
<text x="87" y="566.7" font-size="12.2" font-weight="bold" text-anchor="end" fill="#000">0</text>
<rect x="109.9" y="531.3" width="29.7" height="30.7" fill="#F4A33B"/>
<rect x="160.5" y="476.7" width="29.6" height="85.3" fill="#06689E"/>
<rect x="211.3" y="529.9" width="29.9" height="32.1" fill="#F55A08"/>
<line x1="94.3" y1="562" x2="256.7" y2="562" stroke="#1b1b1b" stroke-width="1.4"/>
<line x1="124.4" y1="562" x2="124.4" y2="568" stroke="#1b1b1b" stroke-width="1.4"/>
<line x1="175.2" y1="562" x2="175.2" y2="568" stroke="#1b1b1b" stroke-width="1.4"/>
<line x1="226" y1="562" x2="226" y2="568" stroke="#1b1b1b" stroke-width="1.4"/>
<line x1="124.3" y1="528.7" x2="124.3" y2="533.7" stroke="#1b1b1b" stroke-width="1"/>
<line x1="116.8" y1="528.7" x2="131.8" y2="528.7" stroke="#1b1b1b" stroke-width="1"/>
<line x1="116.8" y1="533.7" x2="131.8" y2="533.7" stroke="#1b1b1b" stroke-width="1"/>
<line x1="175.1" y1="464.3" x2="175.1" y2="488.2" stroke="#1b1b1b" stroke-width="1"/>
<line x1="167.6" y1="464.3" x2="182.6" y2="464.3" stroke="#1b1b1b" stroke-width="1"/>
<line x1="167.6" y1="488.2" x2="182.6" y2="488.2" stroke="#1b1b1b" stroke-width="1"/>
<line x1="225.9" y1="524.3" x2="225.9" y2="534.2" stroke="#1b1b1b" stroke-width="1"/>
<line x1="218.4" y1="524.3" x2="233.4" y2="524.3" stroke="#1b1b1b" stroke-width="1"/>
<line x1="218.4" y1="534.2" x2="233.4" y2="534.2" stroke="#1b1b1b" stroke-width="1"/>
<circle cx="124.3" cy="518.4" r="2.3" fill="#000"/>
<circle cx="114.9" cy="533.3" r="2.3" fill="#000"/>
<circle cx="121.2" cy="532.6" r="2.3" fill="#000"/>
<circle cx="127.8" cy="534.8" r="2.3" fill="#000"/>
<circle cx="133.9" cy="534.4" r="2.3" fill="#000"/>
<circle cx="114.9" cy="537" r="2.3" fill="#000"/>
<circle cx="175.1" cy="425.3" r="2.3" fill="#000"/>
<circle cx="175.1" cy="459.3" r="2.3" fill="#000"/>
<circle cx="175.1" cy="487.7" r="2.3" fill="#000"/>
<circle cx="175.1" cy="492.1" r="2.3" fill="#000"/>
<circle cx="171.8" cy="498.7" r="2.3" fill="#000"/>
<circle cx="178.2" cy="496" r="2.3" fill="#000"/>
<circle cx="225.9" cy="511" r="2.3" fill="#000"/>
<circle cx="225.9" cy="522.8" r="2.3" fill="#000"/>
<circle cx="220" cy="530.9" r="2.3" fill="#000"/>
<circle cx="225.9" cy="532.6" r="2.3" fill="#000"/>
<circle cx="232.5" cy="532.2" r="2.3" fill="#000"/>
<circle cx="225.9" cy="548.4" r="2.3" fill="#000"/>
<line x1="123.5" y1="399.2" x2="170.5" y2="399.2" stroke="#1b1b1b" stroke-width="1"/>
<line x1="176.6" y1="399.2" x2="224" y2="399.2" stroke="#1b1b1b" stroke-width="1"/>
<path d="M136.95 384.2L136.95 391M134.01 385.9L139.89 389.3M139.89 385.9L134.01 389.3" stroke="#000" stroke-width="1.25" stroke-linecap="round"/>
<path d="M147 384.2L147 391M144.06 385.9L149.94 389.3M149.94 385.9L144.06 389.3" stroke="#000" stroke-width="1.25" stroke-linecap="round"/>
<path d="M157.05 384.2L157.05 391M154.11 385.9L159.99 389.3M159.99 385.9L154.11 389.3" stroke="#000" stroke-width="1.25" stroke-linecap="round"/>
<path d="M190.3 384.2L190.3 391M187.36 385.9L193.24 389.3M193.24 385.9L187.36 389.3" stroke="#000" stroke-width="1.25" stroke-linecap="round"/>
<path d="M200.4 384.2L200.4 391M197.46 385.9L203.34 389.3M203.34 385.9L197.46 389.3" stroke="#000" stroke-width="1.25" stroke-linecap="round"/>
<path d="M210.5 384.2L210.5 391M207.56 385.9L213.44 389.3M213.44 385.9L207.56 389.3" stroke="#000" stroke-width="1.25" stroke-linecap="round"/>
<text x="122.5" y="581.32" font-size="11.7" font-weight="bold" text-anchor="middle" fill="#000">Control</text>
<text x="175.7" y="581.32" font-size="11.7" font-weight="bold" text-anchor="middle" fill="#000">IIRI</text>
<text x="229" y="581.32" font-size="11.7" font-weight="bold" text-anchor="middle" fill="#000">IIRI+MET</text>
<text transform="translate(58.51 481.9) rotate(-90)" font-size="13.4" font-weight="bold" text-anchor="middle" fill="#000">Fe (µmol/g prot)</text>
<text x="297.96" y="392.77" font-size="21.5" font-weight="bold">F</text>
<line x1="376" y1="400" x2="376" y2="563.2" stroke="#1b1b1b" stroke-width="1.4"/>
<line x1="369.5" y1="400.6" x2="376" y2="400.6" stroke="#1b1b1b" stroke-width="1.4"/>
<text x="367.3" y="404.62" font-size="11.7" font-weight="bold" text-anchor="end" fill="#000">3</text>
<line x1="369.5" y1="454.5" x2="376" y2="454.5" stroke="#1b1b1b" stroke-width="1.4"/>
<text x="367.3" y="458.52" font-size="11.7" font-weight="bold" text-anchor="end" fill="#000">2</text>
<line x1="369.5" y1="508.6" x2="376" y2="508.6" stroke="#1b1b1b" stroke-width="1.4"/>
<text x="367.3" y="512.62" font-size="11.7" font-weight="bold" text-anchor="end" fill="#000">1</text>
<line x1="369.5" y1="562.5" x2="376" y2="562.5" stroke="#1b1b1b" stroke-width="1.4"/>
<text x="367.3" y="566.52" font-size="11.7" font-weight="bold" text-anchor="end" fill="#000">0</text>
<rect x="398.8" y="503.2" width="23.1" height="59.3" fill="#F4A33B"/>
<rect x="433.4" y="552.8" width="23" height="9.7" fill="#06689E"/>
<rect x="468.2" y="502.8" width="22.8" height="59.7" fill="#F55A08"/>
<rect x="526" y="503.8" width="22.8" height="58.7" fill="#F4A33B"/>
<rect x="560.5" y="559" width="22.8" height="3.5" fill="#06689E"/>
<rect x="595.2" y="525.9" width="22.8" height="36.6" fill="#F55A08"/>
<line x1="375.3" y1="562.5" x2="642.3" y2="562.5" stroke="#1b1b1b" stroke-width="1.4"/>
<line x1="444.6" y1="562.5" x2="444.6" y2="568.5" stroke="#1b1b1b" stroke-width="1.4"/>
<line x1="571.9" y1="562.5" x2="571.9" y2="568.5" stroke="#1b1b1b" stroke-width="1.4"/>
<line x1="410.2" y1="491.4" x2="410.2" y2="514.9" stroke="#1b1b1b" stroke-width="1"/>
<line x1="405.2" y1="491.4" x2="415.2" y2="491.4" stroke="#1b1b1b" stroke-width="1"/>
<line x1="405.2" y1="514.9" x2="415.2" y2="514.9" stroke="#1b1b1b" stroke-width="1"/>
<line x1="444.8" y1="550.2" x2="444.8" y2="555.3" stroke="#1b1b1b" stroke-width="1"/>
<line x1="439.8" y1="550.2" x2="449.8" y2="550.2" stroke="#1b1b1b" stroke-width="1"/>
<line x1="439.8" y1="555.3" x2="449.8" y2="555.3" stroke="#1b1b1b" stroke-width="1"/>
<line x1="479.4" y1="485.2" x2="479.4" y2="519.2" stroke="#1b1b1b" stroke-width="1"/>
<line x1="474.4" y1="485.2" x2="484.4" y2="485.2" stroke="#1b1b1b" stroke-width="1"/>
<line x1="474.4" y1="519.2" x2="484.4" y2="519.2" stroke="#1b1b1b" stroke-width="1"/>
<line x1="537.4" y1="492.2" x2="537.4" y2="515.3" stroke="#1b1b1b" stroke-width="1"/>
<line x1="532.4" y1="492.2" x2="542.4" y2="492.2" stroke="#1b1b1b" stroke-width="1"/>
<line x1="532.4" y1="515.3" x2="542.4" y2="515.3" stroke="#1b1b1b" stroke-width="1"/>
<line x1="571.9" y1="557.5" x2="571.9" y2="561" stroke="#1b1b1b" stroke-width="1"/>
<line x1="566.9" y1="557.5" x2="576.9" y2="557.5" stroke="#1b1b1b" stroke-width="1"/>
<line x1="566.9" y1="561" x2="576.9" y2="561" stroke="#1b1b1b" stroke-width="1"/>
<line x1="606.5" y1="518.6" x2="606.5" y2="533.4" stroke="#1b1b1b" stroke-width="1"/>
<line x1="601.5" y1="518.6" x2="611.5" y2="518.6" stroke="#1b1b1b" stroke-width="1"/>
<line x1="601.5" y1="533.4" x2="611.5" y2="533.4" stroke="#1b1b1b" stroke-width="1"/>
<circle cx="410.1" cy="460.7" r="2.1" fill="#000"/>
<circle cx="410.1" cy="486" r="2.1" fill="#000"/>
<circle cx="410.1" cy="490.8" r="2.1" fill="#000"/>
<circle cx="410.1" cy="518.7" r="2.1" fill="#000"/>
<circle cx="405.6" cy="532.9" r="2.1" fill="#000"/>
<circle cx="414.6" cy="530.1" r="2.1" fill="#000"/>
<circle cx="435.4" cy="549.7" r="2.1" fill="#000"/>
<circle cx="444.6" cy="548.1" r="2.1" fill="#000"/>
<circle cx="453.9" cy="545.2" r="2.1" fill="#000"/>
<circle cx="453.9" cy="552.6" r="2.1" fill="#000"/>
<circle cx="449.4" cy="558.1" r="2.1" fill="#000"/>
<circle cx="440.3" cy="561.8" r="2.1" fill="#000"/>
<circle cx="479.4" cy="427.2" r="2.1" fill="#000"/>
<circle cx="479.4" cy="493.8" r="2.1" fill="#000"/>
<circle cx="479.4" cy="502.8" r="2.1" fill="#000"/>
<circle cx="479.4" cy="510.9" r="2.1" fill="#000"/>
<circle cx="479.4" cy="533.3" r="2.1" fill="#000"/>
<circle cx="479.4" cy="547.3" r="2.1" fill="#000"/>
<circle cx="537.4" cy="457.1" r="2.1" fill="#000"/>
<circle cx="537.4" cy="488.4" r="2.1" fill="#000"/>
<circle cx="537.4" cy="498.3" r="2.1" fill="#000"/>
<circle cx="537.4" cy="522" r="2.1" fill="#000"/>
<circle cx="532.7" cy="530.5" r="2.1" fill="#000"/>
<circle cx="541.8" cy="526.7" r="2.1" fill="#000"/>
<circle cx="575" cy="551.4" r="2.1" fill="#000"/>
<circle cx="568.9" cy="554.8" r="2.1" fill="#000"/>
<circle cx="562.4" cy="561.8" r="2.1" fill="#000"/>
<circle cx="568.9" cy="561.8" r="2.1" fill="#000"/>
<circle cx="575" cy="561.8" r="2.1" fill="#000"/>
<circle cx="581" cy="561.8" r="2.1" fill="#000"/>
<circle cx="606.5" cy="492.7" r="2.1" fill="#000"/>
<circle cx="606.5" cy="519.5" r="2.1" fill="#000"/>
<circle cx="606.5" cy="526.7" r="2.1" fill="#000"/>
<circle cx="601.7" cy="536.8" r="2.1" fill="#000"/>
<circle cx="611.2" cy="536.8" r="2.1" fill="#000"/>
<circle cx="606.5" cy="542.9" r="2.1" fill="#000"/>
<text x="444.6" y="580.82" font-size="11.1" font-weight="bold" text-anchor="middle" fill="#000">SLC7A11</text>
<text x="572" y="580.82" font-size="11.1" font-weight="bold" text-anchor="middle" fill="#000">GPX4</text>
<text transform="translate(352.88 481.4) rotate(-90)" font-size="12.45" font-weight="bold" text-anchor="middle" fill="#000">Relative mRNA expression</text>
<rect x="605" y="386.1" width="16.5" height="7.8" fill="#F4A33B"/>
<rect x="605" y="406" width="16.5" height="8" fill="#06689E"/>
<rect x="605" y="426.1" width="16.5" height="8" fill="#F55A08"/>
<text x="630.6" y="393.93" font-size="12"  text-anchor="start" fill="#1a1a1a">Control</text>
<text x="630.6" y="414.03" font-size="12"  text-anchor="start" fill="#1a1a1a">IIRI</text>
<text x="630.6" y="434.13" font-size="12"  text-anchor="start" fill="#1a1a1a">IIRI+MET</text>
<text x="0.92" y="610.97" font-size="21.5" font-weight="bold">G</text>
<line x1="119.7" y1="616" x2="119.7" y2="789.55" stroke="#1b1b1b" stroke-width="1.1"/>
<line x1="114.4" y1="616.6" x2="119.7" y2="616.6" stroke="#1b1b1b" stroke-width="1.1"/>
<text x="112.6" y="620.21" font-size="10.5" font-weight="bold" text-anchor="end" fill="#000">18</text>
<line x1="114.4" y1="645.5" x2="119.7" y2="645.5" stroke="#1b1b1b" stroke-width="1.1"/>
<text x="112.6" y="649.11" font-size="10.5" font-weight="bold" text-anchor="end" fill="#000">15</text>
<line x1="114.4" y1="674.3" x2="119.7" y2="674.3" stroke="#1b1b1b" stroke-width="1.1"/>
<text x="112.6" y="677.91" font-size="10.5" font-weight="bold" text-anchor="end" fill="#000">12</text>
<line x1="114.4" y1="703.1" x2="119.7" y2="703.1" stroke="#1b1b1b" stroke-width="1.1"/>
<text x="112.6" y="706.71" font-size="10.5" font-weight="bold" text-anchor="end" fill="#000">9</text>
<line x1="114.4" y1="731.9" x2="119.7" y2="731.9" stroke="#1b1b1b" stroke-width="1.1"/>
<text x="112.6" y="735.51" font-size="10.5" font-weight="bold" text-anchor="end" fill="#000">6</text>
<line x1="114.4" y1="760.7" x2="119.7" y2="760.7" stroke="#1b1b1b" stroke-width="1.1"/>
<text x="112.6" y="764.31" font-size="10.5" font-weight="bold" text-anchor="end" fill="#000">3</text>
<line x1="114.4" y1="789.3" x2="119.7" y2="789.3" stroke="#1b1b1b" stroke-width="1.1"/>
<text x="112.6" y="792.91" font-size="10.5" font-weight="bold" text-anchor="end" fill="#000">0</text>
<rect x="130" y="779.3" width="20.2" height="9.7" fill="#F4A33B"/>
<rect x="156.5" y="734" width="20.3" height="55" fill="#06689E"/>
<rect x="183.2" y="781.1" width="20.6" height="7.9" fill="#F55A08"/>
<line x1="140.1" y1="776" x2="140.1" y2="782" stroke="#1b1b1b" stroke-width="0.9"/>
<line x1="135.6" y1="776" x2="144.6" y2="776" stroke="#1b1b1b" stroke-width="0.9"/>
<line x1="135.6" y1="782" x2="144.6" y2="782" stroke="#1b1b1b" stroke-width="0.9"/>
<line x1="166.65" y1="717.3" x2="166.65" y2="750.3" stroke="#1b1b1b" stroke-width="0.9"/>
<line x1="162.15" y1="717.3" x2="171.15" y2="717.3" stroke="#1b1b1b" stroke-width="0.9"/>
<line x1="162.15" y1="750.3" x2="171.15" y2="750.3" stroke="#1b1b1b" stroke-width="0.9"/>
<line x1="193.5" y1="777.2" x2="193.5" y2="784.5" stroke="#1b1b1b" stroke-width="0.9"/>
<line x1="189" y1="777.2" x2="198" y2="777.2" stroke="#1b1b1b" stroke-width="0.9"/>
<line x1="189" y1="784.5" x2="198" y2="784.5" stroke="#1b1b1b" stroke-width="0.9"/>
<circle cx="137.3" cy="777" r="1.5" fill="#000"/>
<circle cx="142.6" cy="775.5" r="1.5" fill="#000"/>
<circle cx="137.3" cy="780.6" r="1.5" fill="#000"/>
<circle cx="142.6" cy="781" r="1.5" fill="#000"/>
<circle cx="137.3" cy="783.7" r="1.5" fill="#000"/>
<circle cx="142.6" cy="779" r="1.5" fill="#000"/>
<circle cx="166.5" cy="682.3" r="1.5" fill="#000"/>
<circle cx="166.5" cy="685.9" r="1.5" fill="#000"/>
<circle cx="166.5" cy="739.9" r="1.5" fill="#000"/>
<circle cx="166.5" cy="749.6" r="1.5" fill="#000"/>
<circle cx="166.5" cy="768.6" r="1.5" fill="#000"/>
<circle cx="166.5" cy="777.7" r="1.5" fill="#000"/>
<circle cx="193.3" cy="764.3" r="1.5" fill="#000"/>
<circle cx="190.7" cy="780.1" r="1.5" fill="#000"/>
<circle cx="196.2" cy="782" r="1.5" fill="#000"/>
<circle cx="193.3" cy="785.8" r="1.5" fill="#000"/>
<circle cx="188.3" cy="787.7" r="1.5" fill="#000"/>
<circle cx="198.3" cy="786.6" r="1.5" fill="#000"/>
<line x1="139.8" y1="667.4" x2="163.4" y2="667.4" stroke="#222" stroke-width="0.9"/>
<path d="M152.1 660.3L152.1 663.3M150.8 661.05L153.4 662.55M153.4 661.05L150.8 662.55" stroke="#000" stroke-width="0.85" stroke-linecap="round"/>
<line x1="172.9" y1="667.4" x2="196.6" y2="667.4" stroke="#222" stroke-width="0.9"/>
<path d="M185.25 660.3L185.25 663.3M183.95 661.05L186.55 662.55M186.55 661.05L183.95 662.55" stroke="#000" stroke-width="0.85" stroke-linecap="round"/>
<text x="166.65" y="806.14" font-size="10.3" font-weight="bold" text-anchor="middle" fill="#000">ACSL4</text>
<rect x="230.3" y="778.5" width="20.7" height="10.5" fill="#F4A33B"/>
<rect x="257.2" y="737.4" width="20.6" height="51.6" fill="#06689E"/>
<rect x="284.1" y="777" width="20.7" height="12" fill="#F55A08"/>
<line x1="240.65" y1="776" x2="240.65" y2="782.5" stroke="#1b1b1b" stroke-width="0.9"/>
<line x1="236.15" y1="776" x2="245.15" y2="776" stroke="#1b1b1b" stroke-width="0.9"/>
<line x1="236.15" y1="782.5" x2="245.15" y2="782.5" stroke="#1b1b1b" stroke-width="0.9"/>
<line x1="267.5" y1="723.8" x2="267.5" y2="751.3" stroke="#1b1b1b" stroke-width="0.9"/>
<line x1="263" y1="723.8" x2="272" y2="723.8" stroke="#1b1b1b" stroke-width="0.9"/>
<line x1="263" y1="751.3" x2="272" y2="751.3" stroke="#1b1b1b" stroke-width="0.9"/>
<line x1="294.45" y1="772.4" x2="294.45" y2="780.5" stroke="#1b1b1b" stroke-width="0.9"/>
<line x1="289.95" y1="772.4" x2="298.95" y2="772.4" stroke="#1b1b1b" stroke-width="0.9"/>
<line x1="289.95" y1="780.5" x2="298.95" y2="780.5" stroke="#1b1b1b" stroke-width="0.9"/>
<circle cx="235.2" cy="774.3" r="1.5" fill="#000"/>
<circle cx="240.5" cy="774.8" r="1.5" fill="#000"/>
<circle cx="245.8" cy="773.7" r="1.5" fill="#000"/>
<circle cx="240.5" cy="780.6" r="1.5" fill="#000"/>
<circle cx="235.2" cy="785.1" r="1.5" fill="#000"/>
<circle cx="245.8" cy="783.4" r="1.5" fill="#000"/>
<circle cx="261.8" cy="705.4" r="1.5" fill="#000"/>
<circle cx="267.3" cy="708" r="1.5" fill="#000"/>
<circle cx="272.6" cy="707.3" r="1.5" fill="#000"/>
<circle cx="267.3" cy="763.7" r="1.5" fill="#000"/>
<circle cx="267.3" cy="767.8" r="1.5" fill="#000"/>
<circle cx="267.3" cy="771.7" r="1.5" fill="#000"/>
<circle cx="294" cy="762.1" r="1.5" fill="#000"/>
<circle cx="294" cy="768" r="1.5" fill="#000"/>
<circle cx="294" cy="777.2" r="1.5" fill="#000"/>
<circle cx="291.4" cy="782.2" r="1.5" fill="#000"/>
<circle cx="296.6" cy="784.2" r="1.5" fill="#000"/>
<circle cx="294" cy="787.1" r="1.5" fill="#000"/>
<line x1="241.2" y1="692.2" x2="264.8" y2="692.2" stroke="#222" stroke-width="0.9"/>
<path d="M251.1 685.1L251.1 688.1M249.8 685.85L252.4 687.35M252.4 685.85L249.8 687.35" stroke="#000" stroke-width="0.85" stroke-linecap="round"/>
<path d="M255.9 685.1L255.9 688.1M254.6 685.85L257.2 687.35M257.2 685.85L254.6 687.35" stroke="#000" stroke-width="0.85" stroke-linecap="round"/>
<line x1="274.3" y1="692.2" x2="297.9" y2="692.2" stroke="#222" stroke-width="0.9"/>
<path d="M286.6 685.1L286.6 688.1M285.3 685.85L287.9 687.35M287.9 685.85L285.3 687.35" stroke="#000" stroke-width="0.85" stroke-linecap="round"/>
<text x="267.5" y="806.14" font-size="10.3" font-weight="bold" text-anchor="middle" fill="#000">TFR1</text>
<rect x="331.2" y="778.9" width="20.7" height="10.1" fill="#F4A33B"/>
<rect x="358.1" y="773.9" width="20.4" height="15.1" fill="#06689E"/>
<rect x="384.8" y="784.8" width="20.3" height="4.2" fill="#F55A08"/>
<line x1="341.55" y1="776.5" x2="341.55" y2="782" stroke="#1b1b1b" stroke-width="0.9"/>
<line x1="337.05" y1="776.5" x2="346.05" y2="776.5" stroke="#1b1b1b" stroke-width="0.9"/>
<line x1="337.05" y1="782" x2="346.05" y2="782" stroke="#1b1b1b" stroke-width="0.9"/>
<line x1="368.3" y1="766.4" x2="368.3" y2="781.4" stroke="#1b1b1b" stroke-width="0.9"/>
<line x1="363.8" y1="766.4" x2="372.8" y2="766.4" stroke="#1b1b1b" stroke-width="0.9"/>
<line x1="363.8" y1="781.4" x2="372.8" y2="781.4" stroke="#1b1b1b" stroke-width="0.9"/>
<line x1="394.95" y1="782.4" x2="394.95" y2="787" stroke="#1b1b1b" stroke-width="0.9"/>
<line x1="390.45" y1="782.4" x2="399.45" y2="782.4" stroke="#1b1b1b" stroke-width="0.9"/>
<line x1="390.45" y1="787" x2="399.45" y2="787" stroke="#1b1b1b" stroke-width="0.9"/>
<circle cx="341.3" cy="772" r="1.5" fill="#000"/>
<circle cx="338.4" cy="775.2" r="1.5" fill="#000"/>
<circle cx="344.1" cy="776.5" r="1.5" fill="#000"/>
<circle cx="338.4" cy="780.7" r="1.5" fill="#000"/>
<circle cx="344.1" cy="781.8" r="1.5" fill="#000"/>
<circle cx="341.3" cy="785.7" r="1.5" fill="#000"/>
<circle cx="368" cy="738.8" r="1.5" fill="#000"/>
<circle cx="368" cy="771" r="1.5" fill="#000"/>
<circle cx="368" cy="773.9" r="1.5" fill="#000"/>
<circle cx="365.1" cy="785" r="1.5" fill="#000"/>
<circle cx="370.7" cy="785" r="1.5" fill="#000"/>
<circle cx="368" cy="788.3" r="1.5" fill="#000"/>
<circle cx="394.6" cy="775.8" r="1.5" fill="#000"/>
<circle cx="394.6" cy="780" r="1.5" fill="#000"/>
<circle cx="385.8" cy="789.6" r="1.5" fill="#000"/>
<circle cx="391.7" cy="787.3" r="1.5" fill="#000"/>
<circle cx="397.7" cy="788" r="1.5" fill="#000"/>
<circle cx="403.6" cy="787.9" r="1.5" fill="#000"/>
<line x1="339.5" y1="732.5" x2="363.1" y2="732.5" stroke="#222" stroke-width="0.9"/>
<text x="351.3" y="728.7" font-size="7" text-anchor="middle" fill="#222">ns</text>
<line x1="373" y1="732.5" x2="396.3" y2="732.5" stroke="#222" stroke-width="0.9"/>
<text x="384.65" y="728.7" font-size="7" text-anchor="middle" fill="#222">ns</text>
<text x="368.3" y="806.14" font-size="10.3" font-weight="bold" text-anchor="middle" fill="#000">VDAC1</text>
<rect x="431.8" y="779.6" width="20.7" height="9.4" fill="#F4A33B"/>
<rect x="458.9" y="693.9" width="20.3" height="95.1" fill="#06689E"/>
<rect x="485.4" y="781.3" width="20.5" height="7.7" fill="#F55A08"/>
<line x1="442.15" y1="778" x2="442.15" y2="782" stroke="#1b1b1b" stroke-width="0.9"/>
<line x1="437.65" y1="778" x2="446.65" y2="778" stroke="#1b1b1b" stroke-width="0.9"/>
<line x1="437.65" y1="782" x2="446.65" y2="782" stroke="#1b1b1b" stroke-width="0.9"/>
<line x1="469.05" y1="665.8" x2="469.05" y2="721.3" stroke="#1b1b1b" stroke-width="0.9"/>
<line x1="464.55" y1="665.8" x2="473.55" y2="665.8" stroke="#1b1b1b" stroke-width="0.9"/>
<line x1="464.55" y1="721.3" x2="473.55" y2="721.3" stroke="#1b1b1b" stroke-width="0.9"/>
<line x1="495.65" y1="778" x2="495.65" y2="785" stroke="#1b1b1b" stroke-width="0.9"/>
<line x1="491.15" y1="778" x2="500.15" y2="778" stroke="#1b1b1b" stroke-width="0.9"/>
<line x1="491.15" y1="785" x2="500.15" y2="785" stroke="#1b1b1b" stroke-width="0.9"/>
<circle cx="439.1" cy="776.1" r="1.5" fill="#000"/>
<circle cx="444.9" cy="776.1" r="1.5" fill="#000"/>
<circle cx="432.7" cy="781.5" r="1.5" fill="#000"/>
<circle cx="439.1" cy="781.5" r="1.5" fill="#000"/>
<circle cx="444.9" cy="781.5" r="1.5" fill="#000"/>
<circle cx="451.1" cy="781.5" r="1.5" fill="#000"/>
<circle cx="468.7" cy="630" r="1.5" fill="#000"/>
<circle cx="466" cy="639.3" r="1.5" fill="#000"/>
<circle cx="471.4" cy="640.3" r="1.5" fill="#000"/>
<circle cx="468.7" cy="703.5" r="1.5" fill="#000"/>
<circle cx="468.7" cy="771.9" r="1.5" fill="#000"/>
<circle cx="468.7" cy="777.1" r="1.5" fill="#000"/>
<circle cx="495.6" cy="768.4" r="1.5" fill="#000"/>
<circle cx="490.2" cy="780.4" r="1.5" fill="#000"/>
<circle cx="495.6" cy="782" r="1.5" fill="#000"/>
<circle cx="501" cy="780.4" r="1.5" fill="#000"/>
<circle cx="492.7" cy="786.8" r="1.5" fill="#000"/>
<circle cx="498.5" cy="786.8" r="1.5" fill="#000"/>
<line x1="438.9" y1="615.9" x2="462.7" y2="615.9" stroke="#9a9a9a" stroke-width="1.4"/>
<path d="M448.9 608.8L448.9 611.8M447.6 609.55L450.2 611.05M450.2 609.55L447.6 611.05" stroke="#000" stroke-width="0.85" stroke-linecap="round"/>
<path d="M453.7 608.8L453.7 611.8M452.4 609.55L455 611.05M455 609.55L452.4 611.05" stroke="#000" stroke-width="0.85" stroke-linecap="round"/>
<line x1="472" y1="615.9" x2="496" y2="615.9" stroke="#9a9a9a" stroke-width="1.4"/>
<path d="M482.1 608.8L482.1 611.8M480.8 609.55L483.4 611.05M483.4 609.55L480.8 611.05" stroke="#000" stroke-width="0.85" stroke-linecap="round"/>
<path d="M486.9 608.8L486.9 611.8M485.6 609.55L488.2 611.05M488.2 609.55L485.6 611.05" stroke="#000" stroke-width="0.85" stroke-linecap="round"/>
<text x="469.05" y="806.14" font-size="10.3" font-weight="bold" text-anchor="middle" fill="#000">VDAC2</text>
<rect x="532.1" y="778.6" width="20.9" height="10.4" fill="#F4A33B"/>
<rect x="559.3" y="705.2" width="20.5" height="83.8" fill="#06689E"/>
<rect x="586.3" y="776.3" width="20.5" height="12.7" fill="#F55A08"/>
<line x1="542.55" y1="776.5" x2="542.55" y2="781" stroke="#1b1b1b" stroke-width="0.9"/>
<line x1="538.05" y1="776.5" x2="547.05" y2="776.5" stroke="#1b1b1b" stroke-width="0.9"/>
<line x1="538.05" y1="781" x2="547.05" y2="781" stroke="#1b1b1b" stroke-width="0.9"/>
<line x1="569.55" y1="682" x2="569.55" y2="728.4" stroke="#1b1b1b" stroke-width="0.9"/>
<line x1="565.05" y1="682" x2="574.05" y2="682" stroke="#1b1b1b" stroke-width="0.9"/>
<line x1="565.05" y1="728.4" x2="574.05" y2="728.4" stroke="#1b1b1b" stroke-width="0.9"/>
<line x1="596.55" y1="773" x2="596.55" y2="779" stroke="#1b1b1b" stroke-width="0.9"/>
<line x1="592.05" y1="773" x2="601.05" y2="773" stroke="#1b1b1b" stroke-width="0.9"/>
<line x1="592.05" y1="779" x2="601.05" y2="779" stroke="#1b1b1b" stroke-width="0.9"/>
<circle cx="542.5" cy="767.7" r="1.5" fill="#000"/>
<circle cx="537.1" cy="778.3" r="1.5" fill="#000"/>
<circle cx="542.5" cy="779.3" r="1.5" fill="#000"/>
<circle cx="547.9" cy="778.9" r="1.5" fill="#000"/>
<circle cx="539.8" cy="783.8" r="1.5" fill="#000"/>
<circle cx="545.2" cy="782.9" r="1.5" fill="#000"/>
<circle cx="569.3" cy="638.2" r="1.5" fill="#000"/>
<circle cx="566.6" cy="673" r="1.5" fill="#000"/>
<circle cx="572" cy="674.3" r="1.5" fill="#000"/>
<circle cx="569.3" cy="695.7" r="1.5" fill="#000"/>
<circle cx="566.6" cy="774.8" r="1.5" fill="#000"/>
<circle cx="572" cy="774.5" r="1.5" fill="#000"/>
<circle cx="596.1" cy="767.7" r="1.5" fill="#000"/>
<circle cx="593.4" cy="770.4" r="1.5" fill="#000"/>
<circle cx="598.8" cy="772.1" r="1.5" fill="#000"/>
<circle cx="596.1" cy="777.5" r="1.5" fill="#000"/>
<circle cx="596.1" cy="782.3" r="1.5" fill="#000"/>
<circle cx="596.1" cy="786.8" r="1.5" fill="#000"/>
<line x1="538.9" y1="627.1" x2="562.5" y2="627.1" stroke="#222" stroke-width="0.9"/>
<path d="M548.8 620L548.8 623M547.5 620.75L550.1 622.25M550.1 620.75L547.5 622.25" stroke="#000" stroke-width="0.85" stroke-linecap="round"/>
<path d="M553.6 620L553.6 623M552.3 620.75L554.9 622.25M554.9 620.75L552.3 622.25" stroke="#000" stroke-width="0.85" stroke-linecap="round"/>
<line x1="572" y1="627.1" x2="595.9" y2="627.1" stroke="#222" stroke-width="0.9"/>
<path d="M582.05 620L582.05 623M580.75 620.75L583.35 622.25M583.35 620.75L580.75 622.25" stroke="#000" stroke-width="0.85" stroke-linecap="round"/>
<path d="M586.85 620L586.85 623M585.55 620.75L588.15 622.25M588.15 620.75L585.55 622.25" stroke="#000" stroke-width="0.85" stroke-linecap="round"/>
<text x="569.55" y="806.14" font-size="10.3" font-weight="bold" text-anchor="middle" fill="#000">VDAC3</text>
<line x1="113.55" y1="789" x2="617" y2="789" stroke="#1b1b1b" stroke-width="1.1"/>
<line x1="166.65" y1="789" x2="166.65" y2="794.3" stroke="#1b1b1b" stroke-width="1.1"/>
<line x1="267.5" y1="789" x2="267.5" y2="794.3" stroke="#1b1b1b" stroke-width="1.1"/>
<line x1="368.3" y1="789" x2="368.3" y2="794.3" stroke="#1b1b1b" stroke-width="1.1"/>
<line x1="469.05" y1="789" x2="469.05" y2="794.3" stroke="#1b1b1b" stroke-width="1.1"/>
<line x1="569.55" y1="789" x2="569.55" y2="794.3" stroke="#1b1b1b" stroke-width="1.1"/>
<text transform="translate(86.78 700.4) rotate(-90)" font-size="11" font-weight="bold" text-anchor="middle" fill="#000">Relative mRNA expression</text>
<rect x="253.1" y="599.6" width="9.7" height="4.1" fill="#F4A33B"/>
<rect x="319.7" y="599.6" width="9.9" height="4.1" fill="#06689E"/>
<rect x="369.9" y="599.6" width="9.7" height="4.1" fill="#F55A08"/>
<text x="268.6" y="604.25" font-size="7.7"  text-anchor="start" fill="#000">Control</text>
<text x="335.8" y="604.25" font-size="7.7"  text-anchor="start" fill="#000">IIRI</text>
<text x="385.4" y="604.25" font-size="7.7"  text-anchor="start" fill="#000">IIRI+MET</text>
<text x="1.36" y="834.77" font-size="21.5" font-weight="bold">H</text>
<rect x="68.1" y="866.4" width="80.7" height="15.7" fill="url(#hg0)"/>
<g clip-path="url(#hc0)">
<rect x="72.3" y="873.4" width="19.4" height="2.4" rx="4.27" ry="1.2" fill="#2a2a2a" filter="url(#bb)"/>
<rect x="96.8" y="872.6" width="21.3" height="4.6" rx="4.69" ry="2.3" fill="#050505" filter="url(#bb)"/>
<rect x="123.1" y="873.35" width="19.1" height="2.5" rx="4.2" ry="1.25" fill="#202020" filter="url(#bb)"/>
</g>
<rect x="68.1" y="866.4" width="80.7" height="15.7" fill="none" stroke="#2a2a2a" stroke-width="1.1"/>
<text x="44.7" y="876.53" font-size="7.8" font-weight="bold" text-anchor="middle" fill="#111">ACSL4</text>
<text x="159.5" y="876.45" font-size="7.85" font-weight="bold" text-anchor="start" fill="#111">79 kDa</text>
<rect x="68.1" y="885.9" width="80.7" height="15.6" fill="url(#hg1)"/>
<g clip-path="url(#hc1)">
<rect x="71.6" y="892.85" width="19.5" height="2.7" rx="4.29" ry="1.35" fill="#1a1a1a" filter="url(#bb)"/>
<rect x="97.1" y="892.15" width="19.1" height="4.3" rx="4.2" ry="2.15" fill="#080808" filter="url(#bb)"/>
<rect x="121.9" y="892.6" width="20.7" height="3.8" rx="4.55" ry="1.9" fill="#0c0c0c" filter="url(#bb)"/>
</g>
<rect x="68.1" y="885.9" width="80.7" height="15.6" fill="none" stroke="#2a2a2a" stroke-width="1.1"/>
<text x="44.7" y="895.98" font-size="7.8" font-weight="bold" text-anchor="middle" fill="#111">TFR1</text>
<text x="159.5" y="895.9" font-size="7.85" font-weight="bold" text-anchor="start" fill="#111">84 kDa</text>
<rect x="68.1" y="905.6" width="80.7" height="15.4" fill="url(#hg2)"/>
<g clip-path="url(#hc2)">
<rect x="72.3" y="911.95" width="20.1" height="2.5" rx="4.42" ry="1.25" fill="#202020" filter="url(#bb)"/>
<rect x="97.1" y="908.75" width="23.9" height="7.3" rx="5" ry="3.65" fill="#030303" filter="url(#bb)"/>
<rect x="125" y="912.1" width="18.2" height="2.4" rx="4" ry="1.2" fill="#2a2a2a" filter="url(#bb)"/>
</g>
<rect x="68.1" y="905.6" width="80.7" height="15.4" fill="none" stroke="#2a2a2a" stroke-width="1.1"/>
<text x="44.7" y="915.58" font-size="7.8" font-weight="bold" text-anchor="middle" fill="#111">VDAC2</text>
<text x="159.5" y="915.5" font-size="7.85" font-weight="bold" text-anchor="start" fill="#111">30 kDa</text>
<rect x="68.1" y="925.5" width="80.7" height="15.3" fill="url(#hg3)"/>
<g clip-path="url(#hc3)">
<rect x="72" y="932.9" width="17.9" height="2.8" rx="3.94" ry="1.4" fill="#a8a8a8" filter="url(#bs)"/>
<rect x="98" y="930.4" width="20.7" height="7.2" rx="4.55" ry="3.6" fill="#050505" filter="url(#bb)"/>
<rect x="125.6" y="929.95" width="19.5" height="6.1" rx="4.29" ry="3.05" fill="#070707" filter="url(#bb)"/>
</g>
<rect x="68.1" y="925.5" width="80.7" height="15.3" fill="none" stroke="#2a2a2a" stroke-width="1.1"/>
<text x="44.7" y="935.43" font-size="7.8" font-weight="bold" text-anchor="middle" fill="#111">VDAC3</text>
<text x="159.5" y="935.35" font-size="7.85" font-weight="bold" text-anchor="start" fill="#111">31 kDa</text>
<rect x="68.1" y="945.2" width="80.7" height="15.1" fill="url(#hg4)"/>
<g clip-path="url(#hc4)">
<rect x="71.6" y="951.2" width="20.1" height="4" rx="4.42" ry="2" fill="#060606" filter="url(#bb)"/>
<rect x="100" y="952.25" width="12" height="2.5" rx="2.64" ry="1.25" fill="#d8d8d8" filter="url(#bs)"/>
<rect x="125.3" y="951.9" width="20.4" height="3" rx="4.49" ry="1.5" fill="#0c0c0c" filter="url(#bb)"/>
</g>
<rect x="68.1" y="945.2" width="80.7" height="15.1" fill="none" stroke="#2a2a2a" stroke-width="1.1"/>
<text x="44.7" y="955.03" font-size="7.8" font-weight="bold" text-anchor="middle" fill="#111">SLC7A11</text>
<text x="159.5" y="954.95" font-size="7.85" font-weight="bold" text-anchor="start" fill="#111">55 kDa</text>
<rect x="68.1" y="964.7" width="80.7" height="15.3" fill="url(#hg5)"/>
<g clip-path="url(#hc5)">
<rect x="71.6" y="971" width="23" height="4.4" rx="5" ry="2.2" fill="#060606" filter="url(#bb)"/>
<rect x="98.9" y="971.4" width="18.6" height="2.8" rx="4.09" ry="1.4" fill="#141414" filter="url(#bb)"/>
<rect x="121.9" y="970.35" width="23.2" height="5.1" rx="5" ry="2.55" fill="#050505" filter="url(#bb)"/>
<rect x="75" y="976.6" width="67" height="1.4" rx="5" ry="0.7" fill="#b8b8b8" filter="url(#bs)"/>
</g>
<rect x="68.1" y="964.7" width="80.7" height="15.3" fill="none" stroke="#2a2a2a" stroke-width="1.1"/>
<text x="44.7" y="974.63" font-size="7.8" font-weight="bold" text-anchor="middle" fill="#111">GPX4</text>
<text x="159.5" y="974.55" font-size="7.85" font-weight="bold" text-anchor="start" fill="#111">17 kDa</text>
<rect x="68.1" y="984.1" width="80.7" height="15.2" fill="url(#hg6)"/>
<g clip-path="url(#hc6)">
<rect x="71.6" y="989.2" width="23" height="4.4" rx="5" ry="2.2" fill="#060606" filter="url(#bb)"/>
<rect x="96.8" y="988.6" width="20.7" height="5" rx="4.55" ry="2.5" fill="#060606" filter="url(#bb)"/>
<rect x="120" y="988" width="24.5" height="5.6" rx="5" ry="2.8" fill="#040404" filter="url(#bb)"/>
</g>
<rect x="68.1" y="984.1" width="80.7" height="15.2" fill="none" stroke="#2a2a2a" stroke-width="1.1"/>
<text x="44.7" y="993.98" font-size="7.8" font-weight="bold" text-anchor="middle" fill="#111">GAPDH</text>
<text x="159.5" y="993.9" font-size="7.85" font-weight="bold" text-anchor="start" fill="#111">36 kDa</text>
<text transform="translate(79.2 864.2) rotate(-45)" font-size="8" font-weight="bold">Control</text>
<text transform="translate(108.5 858.6) rotate(-45)" font-size="8" font-weight="bold">IIRI</text>
<text transform="translate(131 865.2) rotate(-45)" font-size="8" font-weight="bold">IIRI+MET</text>
<text x="212.46" y="834.77" font-size="21.5" font-weight="bold">I</text>
<line x1="232.4" y1="875" x2="232.4" y2="987.65" stroke="#444" stroke-width="1.5"/>
<line x1="227.9" y1="875.6" x2="232.4" y2="875.6" stroke="#444" stroke-width="1.5"/>
<text x="227.1" y="878.46" font-size="8.3" font-weight="bold" text-anchor="end" fill="#000">2.0</text>
<line x1="227.9" y1="903.6" x2="232.4" y2="903.6" stroke="#444" stroke-width="1.5"/>
<text x="227.1" y="906.46" font-size="8.3" font-weight="bold" text-anchor="end" fill="#000">1.5</text>
<line x1="227.9" y1="931.5" x2="232.4" y2="931.5" stroke="#444" stroke-width="1.5"/>
<text x="227.1" y="934.36" font-size="8.3" font-weight="bold" text-anchor="end" fill="#000">1.0</text>
<line x1="227.9" y1="959.3" x2="232.4" y2="959.3" stroke="#444" stroke-width="1.5"/>
<text x="227.1" y="962.16" font-size="8.3" font-weight="bold" text-anchor="end" fill="#000">0.5</text>
<line x1="227.9" y1="986.9" x2="232.4" y2="986.9" stroke="#444" stroke-width="1.5"/>
<text x="227.1" y="989.76" font-size="8.3" font-weight="bold" text-anchor="end" fill="#000">0.0</text>
<rect x="237.1" y="951.4" width="10.8" height="35.5" fill="#F4A33B"/>
<rect x="251" y="914.2" width="9.9" height="72.7" fill="#06689E"/>
<rect x="264.1" y="938.8" width="10.7" height="48.1" fill="#F55A08"/>
<line x1="242.5" y1="945.3" x2="242.5" y2="957.2" stroke="#222" stroke-width="0.8"/>
<line x1="240.3" y1="945.3" x2="244.7" y2="945.3" stroke="#222" stroke-width="0.8"/>
<line x1="240.3" y1="957.2" x2="244.7" y2="957.2" stroke="#222" stroke-width="0.8"/>
<line x1="255.95" y1="911" x2="255.95" y2="918.2" stroke="#222" stroke-width="0.8"/>
<line x1="253.75" y1="911" x2="258.15" y2="911" stroke="#222" stroke-width="0.8"/>
<line x1="253.75" y1="918.2" x2="258.15" y2="918.2" stroke="#222" stroke-width="0.8"/>
<line x1="269.45" y1="934.7" x2="269.45" y2="942.8" stroke="#222" stroke-width="0.8"/>
<line x1="267.25" y1="934.7" x2="271.65" y2="934.7" stroke="#222" stroke-width="0.8"/>
<line x1="267.25" y1="942.8" x2="271.65" y2="942.8" stroke="#222" stroke-width="0.8"/>
<circle cx="242.3" cy="942.6" r="0.9" fill="#000"/>
<circle cx="242.3" cy="947.4" r="0.9" fill="#000"/>
<circle cx="242.3" cy="963.5" r="0.9" fill="#000"/>
<circle cx="253.9" cy="909.9" r="0.9" fill="#000"/>
<circle cx="257.8" cy="910.5" r="0.9" fill="#000"/>
<circle cx="255.9" cy="922.2" r="0.9" fill="#000"/>
<circle cx="269.4" cy="931.8" r="0.9" fill="#000"/>
<circle cx="269.4" cy="939.1" r="0.9" fill="#000"/>
<circle cx="269.4" cy="945" r="0.9" fill="#000"/>
<line x1="242" y1="879.2" x2="254.7" y2="879.2" stroke="#666" stroke-width="1"/>
<path d="M247.4 875.2L247.4 877M246.62 875.65L248.18 876.55M248.18 875.65L246.62 876.55" stroke="#000" stroke-width="0.7" stroke-linecap="round"/>
<path d="M249.3 875.2L249.3 877M248.52 875.65L250.08 876.55M250.08 875.65L248.52 876.55" stroke="#000" stroke-width="0.7" stroke-linecap="round"/>
<line x1="258.1" y1="879.2" x2="270.9" y2="879.2" stroke="#666" stroke-width="1"/>
<path d="M264.5 875.2L264.5 877M263.72 875.65L265.28 876.55M265.28 875.65L263.72 876.55" stroke="#000" stroke-width="0.7" stroke-linecap="round"/>
<text x="255.95" y="999.87" font-size="8.35" font-weight="bold" text-anchor="middle" fill="#000">ACSL4</text>
<rect x="288" y="945.4" width="10.1" height="41.5" fill="#F4A33B"/>
<rect x="301.2" y="919" width="10.6" height="67.9" fill="#06689E"/>
<rect x="315" y="943.4" width="10.3" height="43.5" fill="#F55A08"/>
<line x1="293.05" y1="943.8" x2="293.05" y2="947.5" stroke="#222" stroke-width="0.8"/>
<line x1="290.85" y1="943.8" x2="295.25" y2="943.8" stroke="#222" stroke-width="0.8"/>
<line x1="290.85" y1="947.5" x2="295.25" y2="947.5" stroke="#222" stroke-width="0.8"/>
<line x1="306.5" y1="915.3" x2="306.5" y2="921.9" stroke="#222" stroke-width="0.8"/>
<line x1="304.3" y1="915.3" x2="308.7" y2="915.3" stroke="#222" stroke-width="0.8"/>
<line x1="304.3" y1="921.9" x2="308.7" y2="921.9" stroke="#222" stroke-width="0.8"/>
<line x1="320.15" y1="934.5" x2="320.15" y2="952.3" stroke="#222" stroke-width="0.8"/>
<line x1="317.95" y1="934.5" x2="322.35" y2="934.5" stroke="#222" stroke-width="0.8"/>
<line x1="317.95" y1="952.3" x2="322.35" y2="952.3" stroke="#222" stroke-width="0.8"/>
<circle cx="291.1" cy="943.2" r="0.9" fill="#000"/>
<circle cx="295" cy="944.1" r="0.9" fill="#000"/>
<circle cx="293" cy="948.2" r="0.9" fill="#000"/>
<circle cx="306.4" cy="911.7" r="0.9" fill="#000"/>
<circle cx="304.5" cy="923" r="0.9" fill="#000"/>
<circle cx="308.5" cy="921.9" r="0.9" fill="#000"/>
<circle cx="320" cy="927.7" r="0.9" fill="#000"/>
<circle cx="320" cy="943.8" r="0.9" fill="#000"/>
<circle cx="320" cy="958.7" r="0.9" fill="#000"/>
<line x1="292.2" y1="885.2" x2="304.8" y2="885.2" stroke="#666" stroke-width="1"/>
<path d="M298.5 881.2L298.5 883M297.72 881.65L299.28 882.55M299.28 881.65L297.72 882.55" stroke="#000" stroke-width="0.7" stroke-linecap="round"/>
<line x1="308.3" y1="885.2" x2="320.8" y2="885.2" stroke="#666" stroke-width="1"/>
<path d="M314.55 881.2L314.55 883M313.77 881.65L315.33 882.55M315.33 881.65L313.77 882.55" stroke="#000" stroke-width="0.7" stroke-linecap="round"/>
<text x="306.5" y="999.87" font-size="8.35" font-weight="bold" text-anchor="middle" fill="#000">TFR1</text>
<rect x="338.6" y="956.9" width="10.3" height="30" fill="#F4A33B"/>
<rect x="352.1" y="922.2" width="10.2" height="64.7" fill="#06689E"/>
<rect x="365.4" y="944.1" width="10.5" height="42.8" fill="#F55A08"/>
<line x1="343.75" y1="954.3" x2="343.75" y2="959.1" stroke="#222" stroke-width="0.8"/>
<line x1="341.55" y1="954.3" x2="345.95" y2="954.3" stroke="#222" stroke-width="0.8"/>
<line x1="341.55" y1="959.1" x2="345.95" y2="959.1" stroke="#222" stroke-width="0.8"/>
<line x1="357.2" y1="917.5" x2="357.2" y2="926.6" stroke="#222" stroke-width="0.8"/>
<line x1="355" y1="917.5" x2="359.4" y2="917.5" stroke="#222" stroke-width="0.8"/>
<line x1="355" y1="926.6" x2="359.4" y2="926.6" stroke="#222" stroke-width="0.8"/>
<line x1="370.65" y1="938.2" x2="370.65" y2="949.9" stroke="#222" stroke-width="0.8"/>
<line x1="368.45" y1="938.2" x2="372.85" y2="938.2" stroke="#222" stroke-width="0.8"/>
<line x1="368.45" y1="949.9" x2="372.85" y2="949.9" stroke="#222" stroke-width="0.8"/>
<circle cx="343.8" cy="951.8" r="0.9" fill="#000"/>
<circle cx="342" cy="958.8" r="0.9" fill="#000"/>
<circle cx="345.5" cy="958.8" r="0.9" fill="#000"/>
<circle cx="357" cy="914.6" r="0.9" fill="#000"/>
<circle cx="357" cy="921.9" r="0.9" fill="#000"/>
<circle cx="357" cy="929.9" r="0.9" fill="#000"/>
<circle cx="368.6" cy="938.2" r="0.9" fill="#000"/>
<circle cx="372.7" cy="938.8" r="0.9" fill="#000"/>
<circle cx="370.5" cy="955.8" r="0.9" fill="#000"/>
<line x1="340.8" y1="887.8" x2="354.9" y2="887.8" stroke="#bbb" stroke-width="1"/>
<path d="M346.9 883.8L346.9 885.6M346.12 884.25L347.68 885.15M347.68 884.25L346.12 885.15" stroke="#000" stroke-width="0.7" stroke-linecap="round"/>
<path d="M348.8 883.8L348.8 885.6M348.02 884.25L349.58 885.15M349.58 884.25L348.02 885.15" stroke="#000" stroke-width="0.7" stroke-linecap="round"/>
<line x1="359.8" y1="887.8" x2="373.8" y2="887.8" stroke="#bbb" stroke-width="1"/>
<path d="M366.8 883.8L366.8 885.6M366.02 884.25L367.58 885.15M367.58 884.25L366.02 885.15" stroke="#000" stroke-width="0.7" stroke-linecap="round"/>
<text x="357.2" y="999.87" font-size="8.35" font-weight="bold" text-anchor="middle" fill="#000">VDAC2</text>
<rect x="389.3" y="955.9" width="10.4" height="31" fill="#F4A33B"/>
<rect x="402.6" y="919" width="10.5" height="67.9" fill="#06689E"/>
<rect x="416.2" y="934" width="10.3" height="52.9" fill="#F55A08"/>
<line x1="394.5" y1="952.1" x2="394.5" y2="959.6" stroke="#222" stroke-width="0.8"/>
<line x1="392.3" y1="952.1" x2="396.7" y2="952.1" stroke="#222" stroke-width="0.8"/>
<line x1="392.3" y1="959.6" x2="396.7" y2="959.6" stroke="#222" stroke-width="0.8"/>
<line x1="407.85" y1="917.2" x2="407.85" y2="921.9" stroke="#222" stroke-width="0.8"/>
<line x1="405.65" y1="917.2" x2="410.05" y2="917.2" stroke="#222" stroke-width="0.8"/>
<line x1="405.65" y1="921.9" x2="410.05" y2="921.9" stroke="#222" stroke-width="0.8"/>
<line x1="421.35" y1="930.2" x2="421.35" y2="937.7" stroke="#222" stroke-width="0.8"/>
<line x1="419.15" y1="930.2" x2="423.55" y2="930.2" stroke="#222" stroke-width="0.8"/>
<line x1="419.15" y1="937.7" x2="423.55" y2="937.7" stroke="#222" stroke-width="0.8"/>
<circle cx="394.1" cy="949.2" r="0.9" fill="#000"/>
<circle cx="394.1" cy="956.9" r="0.9" fill="#000"/>
<circle cx="394.1" cy="961.3" r="0.9" fill="#000"/>
<circle cx="405.8" cy="916.4" r="0.9" fill="#000"/>
<circle cx="409.7" cy="917.8" r="0.9" fill="#000"/>
<circle cx="407.7" cy="921.9" r="0.9" fill="#000"/>
<circle cx="421.1" cy="926.6" r="0.9" fill="#000"/>
<circle cx="421.1" cy="936.2" r="0.9" fill="#000"/>
<circle cx="421.1" cy="939.7" r="0.9" fill="#000"/>
<line x1="389.9" y1="889.3" x2="403.6" y2="889.3" stroke="#777" stroke-width="1"/>
<path d="M394.85 885.3L394.85 887.1M394.07 885.75L395.63 886.65M395.63 885.75L394.07 886.65" stroke="#000" stroke-width="0.7" stroke-linecap="round"/>
<path d="M396.75 885.3L396.75 887.1M395.97 885.75L397.53 886.65M397.53 885.75L395.97 886.65" stroke="#000" stroke-width="0.7" stroke-linecap="round"/>
<path d="M398.65 885.3L398.65 887.1M397.87 885.75L399.43 886.65M399.43 885.75L397.87 886.65" stroke="#000" stroke-width="0.7" stroke-linecap="round"/>
<line x1="408.9" y1="889.3" x2="422.6" y2="889.3" stroke="#777" stroke-width="1"/>
<path d="M415.75 885.3L415.75 887.1M414.97 885.75L416.53 886.65M416.53 885.75L414.97 886.65" stroke="#000" stroke-width="0.7" stroke-linecap="round"/>
<text x="407.85" y="999.87" font-size="8.35" font-weight="bold" text-anchor="middle" fill="#000">VDAC3</text>
<rect x="440.1" y="923.8" width="10.1" height="63.1" fill="#F4A33B"/>
<rect x="453.1" y="949.9" width="10.7" height="37" fill="#06689E"/>
<rect x="466.8" y="931.1" width="10.2" height="55.8" fill="#F55A08"/>
<line x1="445.15" y1="919.3" x2="445.15" y2="928.5" stroke="#222" stroke-width="0.8"/>
<line x1="442.95" y1="919.3" x2="447.35" y2="919.3" stroke="#222" stroke-width="0.8"/>
<line x1="442.95" y1="928.5" x2="447.35" y2="928.5" stroke="#222" stroke-width="0.8"/>
<line x1="458.45" y1="945.3" x2="458.45" y2="954.7" stroke="#222" stroke-width="0.8"/>
<line x1="456.25" y1="945.3" x2="460.65" y2="945.3" stroke="#222" stroke-width="0.8"/>
<line x1="456.25" y1="954.7" x2="460.65" y2="954.7" stroke="#222" stroke-width="0.8"/>
<line x1="471.9" y1="928.2" x2="471.9" y2="933.9" stroke="#222" stroke-width="0.8"/>
<line x1="469.7" y1="928.2" x2="474.1" y2="928.2" stroke="#222" stroke-width="0.8"/>
<line x1="469.7" y1="933.9" x2="474.1" y2="933.9" stroke="#222" stroke-width="0.8"/>
<circle cx="444.9" cy="915.5" r="0.9" fill="#000"/>
<circle cx="444.9" cy="927.4" r="0.9" fill="#000"/>
<circle cx="444.9" cy="928.9" r="0.9" fill="#000"/>
<circle cx="458.4" cy="941.2" r="0.9" fill="#000"/>
<circle cx="458.4" cy="951.8" r="0.9" fill="#000"/>
<circle cx="458.4" cy="954.7" r="0.9" fill="#000"/>
<circle cx="471.9" cy="926" r="0.9" fill="#000"/>
<circle cx="471.9" cy="931.1" r="0.9" fill="#000"/>
<circle cx="471.9" cy="936.8" r="0.9" fill="#000"/>
<line x1="443.6" y1="890.5" x2="455.6" y2="890.5" stroke="#999" stroke-width="1"/>
<path d="M448.65 886.5L448.65 888.3M447.87 886.95L449.43 887.85M449.43 886.95L447.87 887.85" stroke="#000" stroke-width="0.7" stroke-linecap="round"/>
<path d="M450.55 886.5L450.55 888.3M449.77 886.95L451.33 887.85M451.33 886.95L449.77 887.85" stroke="#000" stroke-width="0.7" stroke-linecap="round"/>
<line x1="459.7" y1="890.5" x2="471.6" y2="890.5" stroke="#999" stroke-width="1"/>
<path d="M465.65 886.5L465.65 888.3M464.87 886.95L466.43 887.85M466.43 886.95L464.87 887.85" stroke="#000" stroke-width="0.7" stroke-linecap="round"/>
<text x="458.45" y="999.87" font-size="8.35" font-weight="bold" text-anchor="middle" fill="#000">SLC7A11</text>
<rect x="490.5" y="918" width="10.5" height="68.9" fill="#F4A33B"/>
<rect x="503.9" y="949.9" width="10.2" height="37" fill="#06689E"/>
<rect x="517" y="926" width="10.7" height="60.9" fill="#F55A08"/>
<line x1="495.75" y1="909.2" x2="495.75" y2="926.7" stroke="#222" stroke-width="0.8"/>
<line x1="493.55" y1="909.2" x2="497.95" y2="909.2" stroke="#222" stroke-width="0.8"/>
<line x1="493.55" y1="926.7" x2="497.95" y2="926.7" stroke="#222" stroke-width="0.8"/>
<line x1="509" y1="947.9" x2="509" y2="951.1" stroke="#222" stroke-width="0.8"/>
<line x1="506.8" y1="947.9" x2="511.2" y2="947.9" stroke="#222" stroke-width="0.8"/>
<line x1="506.8" y1="951.1" x2="511.2" y2="951.1" stroke="#222" stroke-width="0.8"/>
<line x1="522.35" y1="924.1" x2="522.35" y2="928.5" stroke="#222" stroke-width="0.8"/>
<line x1="520.15" y1="924.1" x2="524.55" y2="924.1" stroke="#222" stroke-width="0.8"/>
<line x1="520.15" y1="928.5" x2="524.55" y2="928.5" stroke="#222" stroke-width="0.8"/>
<circle cx="495.6" cy="901.2" r="0.9" fill="#000"/>
<circle cx="495.6" cy="923.8" r="0.9" fill="#000"/>
<circle cx="495.6" cy="929.6" r="0.9" fill="#000"/>
<circle cx="509.2" cy="947" r="0.9" fill="#000"/>
<circle cx="507" cy="951.8" r="0.9" fill="#000"/>
<circle cx="510.9" cy="951.4" r="0.9" fill="#000"/>
<circle cx="520.7" cy="922.6" r="0.9" fill="#000"/>
<circle cx="524.3" cy="923.6" r="0.9" fill="#000"/>
<circle cx="522.6" cy="931.1" r="0.9" fill="#000"/>
<line x1="494.1" y1="894.6" x2="506.4" y2="894.6" stroke="#666" stroke-width="1"/>
<path d="M500.25 890.6L500.25 892.4M499.47 891.05L501.03 891.95M501.03 891.05L499.47 891.95" stroke="#000" stroke-width="0.7" stroke-linecap="round"/>
<line x1="510.2" y1="894.6" x2="522.4" y2="894.6" stroke="#666" stroke-width="1"/>
<path d="M516.3 890.6L516.3 892.4M515.52 891.05L517.08 891.95M517.08 891.05L515.52 891.95" stroke="#000" stroke-width="0.7" stroke-linecap="round"/>
<text x="509" y="999.87" font-size="8.35" font-weight="bold" text-anchor="middle" fill="#000">GPX4</text>
<line x1="231.65" y1="986.9" x2="533.1" y2="986.9" stroke="#444" stroke-width="1.5"/>
<line x1="255.95" y1="986.9" x2="255.95" y2="990.9" stroke="#444" stroke-width="1.5"/>
<line x1="306.5" y1="986.9" x2="306.5" y2="990.9" stroke="#444" stroke-width="1.5"/>
<line x1="357.2" y1="986.9" x2="357.2" y2="990.9" stroke="#444" stroke-width="1.5"/>
<line x1="407.85" y1="986.9" x2="407.85" y2="990.9" stroke="#444" stroke-width="1.5"/>
<line x1="458.45" y1="986.9" x2="458.45" y2="990.9" stroke="#444" stroke-width="1.5"/>
<line x1="509" y1="986.9" x2="509" y2="990.9" stroke="#444" stroke-width="1.5"/>
<text transform="translate(210.96 930.5) rotate(-90)" font-size="8.3" font-weight="bold" text-anchor="middle" fill="#000">Relative protein level</text>
<text x="530.18" y="835.07" font-size="21.5" font-weight="bold">J</text>
<rect x="581.3" y="853.1" width="71.3" height="13.8" fill="url(#jg0)"/>
<g clip-path="url(#jc0)">
<rect x="585.5" y="858.5" width="18" height="3.4" rx="3.96" ry="1.7" fill="#141414" filter="url(#bb)"/>
<rect x="608.8" y="857.7" width="19" height="4.6" rx="4.18" ry="2.3" fill="#060606" filter="url(#bb)"/>
<rect x="633.1" y="858.5" width="17" height="3.4" rx="3.74" ry="1.7" fill="#161616" filter="url(#bb)"/>
</g>
<rect x="581.3" y="853.1" width="71.3" height="13.8" fill="none" stroke="#2a2a2a" stroke-width="1.1"/>
<text x="547.4" y="862.34" font-size="6.8" font-weight="bold" text-anchor="start" fill="#000">P-AMPK</text>
<text x="661.7" y="862.37" font-size="6.9" font-weight="bold" text-anchor="start" fill="#000">62 kDa</text>
<rect x="581.3" y="875.3" width="71.3" height="14.2" fill="url(#jg1)"/>
<g clip-path="url(#jc1)">
<rect x="584.5" y="879.6" width="19" height="4.2" rx="4.18" ry="2.1" fill="#060606" filter="url(#bb)"/>
<rect x="607.7" y="880" width="18" height="3.4" rx="3.96" ry="1.7" fill="#121212" filter="url(#bb)"/>
<rect x="630" y="879.8" width="19" height="3.4" rx="4.18" ry="1.7" fill="#121212" filter="url(#bb)"/>
</g>
<rect x="581.3" y="875.3" width="71.3" height="14.2" fill="none" stroke="#2a2a2a" stroke-width="1.1"/>
<text x="547.4" y="884.74" font-size="6.8" font-weight="bold" text-anchor="start" fill="#000">AMPK</text>
<text x="661.7" y="884.77" font-size="6.9" font-weight="bold" text-anchor="start" fill="#000">62 kDa</text>
<text transform="translate(590.8 843.8) rotate(-45)" font-size="7" font-weight="bold">Control</text>
<text transform="translate(616.2 838.4) rotate(-45)" font-size="7" font-weight="bold">IIRI</text>
<text transform="translate(635.3 840.5) rotate(-45)" font-size="7" font-weight="bold">IIRI+MET</text>
<line x1="582" y1="903" x2="582" y2="996.55" stroke="#1b1b1b" stroke-width="1.1"/>
<line x1="578.1" y1="903.7" x2="582" y2="903.7" stroke="#1b1b1b" stroke-width="1.1"/>
<text x="577.2" y="906.21" font-size="7.3" font-weight="bold" text-anchor="end" fill="#000">1.5</text>
<line x1="578.1" y1="934.5" x2="582" y2="934.5" stroke="#1b1b1b" stroke-width="1.1"/>
<text x="577.2" y="937.01" font-size="7.3" font-weight="bold" text-anchor="end" fill="#000">1.0</text>
<line x1="578.1" y1="965.3" x2="582" y2="965.3" stroke="#1b1b1b" stroke-width="1.1"/>
<text x="577.2" y="967.81" font-size="7.3" font-weight="bold" text-anchor="end" fill="#000">0.5</text>
<line x1="578.1" y1="996" x2="582" y2="996" stroke="#1b1b1b" stroke-width="1.1"/>
<text x="577.2" y="998.51" font-size="7.3" font-weight="bold" text-anchor="end" fill="#000">0.0</text>
<rect x="591.5" y="944.1" width="18.4" height="51.9" fill="#F4A33B"/>
<rect x="619.1" y="924.5" width="18.4" height="71.5" fill="#06689E"/>
<rect x="646.7" y="931.3" width="18.4" height="64.7" fill="#F55A08"/>
<line x1="581.45" y1="996" x2="675" y2="996" stroke="#1b1b1b" stroke-width="1.1"/>
<line x1="600.4" y1="996" x2="600.4" y2="1000" stroke="#1b1b1b" stroke-width="1.1"/>
<line x1="628.3" y1="996" x2="628.3" y2="1000" stroke="#1b1b1b" stroke-width="1.1"/>
<line x1="655.6" y1="996" x2="655.6" y2="1000" stroke="#1b1b1b" stroke-width="1.1"/>
<line x1="600.7" y1="938.4" x2="600.7" y2="949.3" stroke="#1b1b1b" stroke-width="1.1"/>
<line x1="595.45" y1="938.4" x2="605.95" y2="938.4" stroke="#1b1b1b" stroke-width="1.1"/>
<line x1="595.45" y1="949.3" x2="605.95" y2="949.3" stroke="#1b1b1b" stroke-width="1.1"/>
<line x1="628.4" y1="921.7" x2="628.4" y2="927.2" stroke="#1b1b1b" stroke-width="1.1"/>
<line x1="623.15" y1="921.7" x2="633.65" y2="921.7" stroke="#1b1b1b" stroke-width="1.1"/>
<line x1="623.15" y1="927.2" x2="633.65" y2="927.2" stroke="#1b1b1b" stroke-width="1.1"/>
<line x1="656" y1="927.2" x2="656" y2="935.5" stroke="#1b1b1b" stroke-width="1.1"/>
<line x1="650.75" y1="927.2" x2="661.25" y2="927.2" stroke="#1b1b1b" stroke-width="1.1"/>
<line x1="650.75" y1="935.5" x2="661.25" y2="935.5" stroke="#1b1b1b" stroke-width="1.1"/>
<circle cx="600.8" cy="933.1" r="1.6" fill="#000"/>
<circle cx="600.8" cy="947.3" r="1.6" fill="#000"/>
<circle cx="600.8" cy="951.8" r="1.6" fill="#000"/>
<circle cx="628.4" cy="919.3" r="1.6" fill="#000"/>
<circle cx="628.4" cy="926.5" r="1.6" fill="#000"/>
<circle cx="628.4" cy="928.1" r="1.6" fill="#000"/>
<circle cx="656" cy="925.9" r="1.6" fill="#000"/>
<circle cx="656" cy="927.8" r="1.6" fill="#000"/>
<circle cx="656" cy="939" r="1.6" fill="#000"/>
<line x1="601.4" y1="907.9" x2="625.1" y2="907.9" stroke="#999" stroke-width="1.5"/>
<line x1="631.6" y1="907.9" x2="655.3" y2="907.9" stroke="#999" stroke-width="1.5"/>
<path d="M613.2 900.6L613.2 903.8M611.81 901.4L614.59 903M614.59 901.4L611.81 903" stroke="#000" stroke-width="1" stroke-linecap="round"/>
<text x="643.5" y="904.3" font-size="5.6" text-anchor="middle" fill="#666">ns</text>
<text x="599.6" y="1007.07" font-size="6.9" font-weight="bold" text-anchor="middle" fill="#000">Control</text>
<text x="628.2" y="1007.07" font-size="6.9" font-weight="bold" text-anchor="middle" fill="#000">IIRI</text>
<text x="655.6" y="1007.07" font-size="6.9" font-weight="bold" text-anchor="middle" fill="#000">IIIRI+MET</text>
<text transform="translate(562.71 949.1) rotate(-90)" font-size="7.58" font-weight="bold" text-anchor="middle" fill="#000">Relative expression of P-AMPK</text>
</svg>
</body></html>
